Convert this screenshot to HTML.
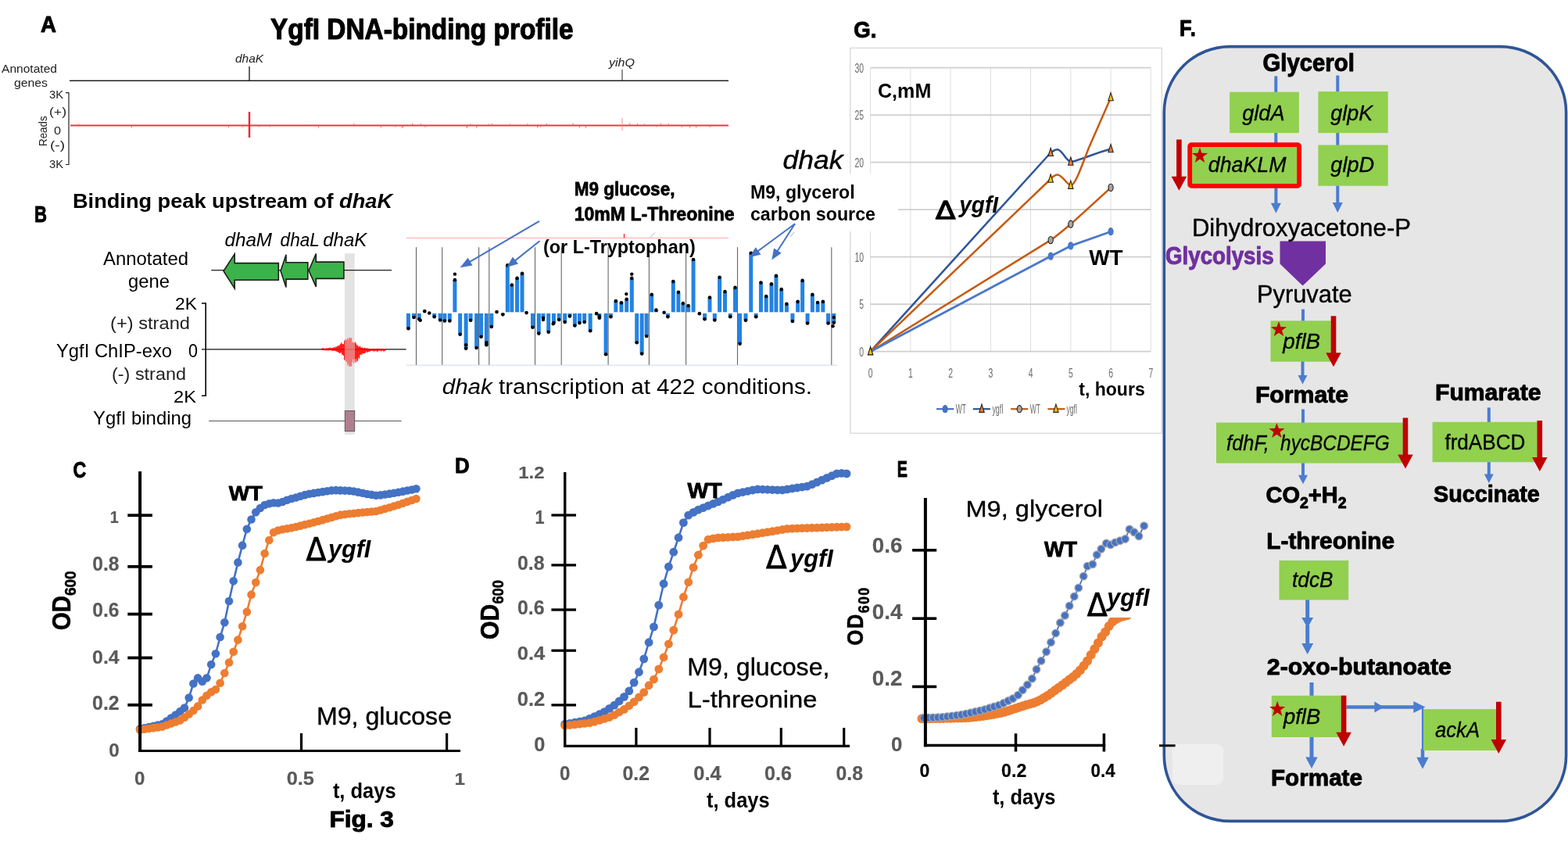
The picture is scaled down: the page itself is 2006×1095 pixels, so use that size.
<!DOCTYPE html>
<html lang="en"><head><meta charset="utf-8"><title>Fig. 3</title>
<style>
html,body{margin:0;padding:0;background:#fff}
body{width:2006px;height:1095px;overflow:hidden}
svg{display:block;font-family:"Liberation Sans",sans-serif}
</style></head><body>
<svg width="2006" height="1095" viewBox="0 0 2006 1095">
<rect width="2006" height="1095" fill="#fff"/>
<rect x="1087.8" y="61.4" width="398.5" height="492.9" fill="#fff" stroke="#dcdcdc" stroke-width="1.5"/>
<line x1="1113.6" y1="86.7" x2="1113.6" y2="449.7" stroke="#dedede" stroke-width="1"/>
<line x1="1164.84" y1="86.7" x2="1164.84" y2="449.7" stroke="#dedede" stroke-width="1"/>
<line x1="1216.08" y1="86.7" x2="1216.08" y2="449.7" stroke="#dedede" stroke-width="1"/>
<line x1="1267.32" y1="86.7" x2="1267.32" y2="449.7" stroke="#dedede" stroke-width="1"/>
<line x1="1318.56" y1="86.7" x2="1318.56" y2="449.7" stroke="#dedede" stroke-width="1"/>
<line x1="1369.8" y1="86.7" x2="1369.8" y2="449.7" stroke="#dedede" stroke-width="1"/>
<line x1="1421.04" y1="86.7" x2="1421.04" y2="449.7" stroke="#dedede" stroke-width="1"/>
<line x1="1472.28" y1="86.7" x2="1472.28" y2="449.7" stroke="#dedede" stroke-width="1"/>
<line x1="1113.6" y1="449.7" x2="1472.28" y2="449.7" stroke="#cfcfcf" stroke-width="1.8"/>
<line x1="1113.6" y1="389.2" x2="1472.28" y2="389.2" stroke="#cfcfcf" stroke-width="1.8"/>
<line x1="1113.6" y1="328.7" x2="1472.28" y2="328.7" stroke="#cfcfcf" stroke-width="1.8"/>
<line x1="1113.6" y1="268.2" x2="1472.28" y2="268.2" stroke="#cfcfcf" stroke-width="1.8"/>
<line x1="1113.6" y1="207.7" x2="1472.28" y2="207.7" stroke="#cfcfcf" stroke-width="1.8"/>
<line x1="1113.6" y1="147.2" x2="1472.28" y2="147.2" stroke="#cfcfcf" stroke-width="1.8"/>
<line x1="1113.6" y1="86.7" x2="1472.28" y2="86.7" stroke="#cfcfcf" stroke-width="1.8"/>
<text x="1099.2" y="455.9" font-size="17" fill="#6b6b6b" textLength="5.8" lengthAdjust="spacingAndGlyphs">0</text>
<text x="1099.2" y="395.4" font-size="17" fill="#6b6b6b" textLength="5.8" lengthAdjust="spacingAndGlyphs">5</text>
<text x="1093.4" y="334.9" font-size="17" fill="#6b6b6b" textLength="11.6" lengthAdjust="spacingAndGlyphs">10</text>
<text x="1093.4" y="274.4" font-size="17" fill="#6b6b6b" textLength="11.6" lengthAdjust="spacingAndGlyphs">15</text>
<text x="1093.4" y="213.9" font-size="17" fill="#6b6b6b" textLength="11.6" lengthAdjust="spacingAndGlyphs">20</text>
<text x="1093.4" y="153.4" font-size="17" fill="#6b6b6b" textLength="11.6" lengthAdjust="spacingAndGlyphs">25</text>
<text x="1093.4" y="92.9" font-size="17" fill="#6b6b6b" textLength="11.6" lengthAdjust="spacingAndGlyphs">30</text>
<text x="1110.7" y="482.9" font-size="17" fill="#6b6b6b" textLength="5.8" lengthAdjust="spacingAndGlyphs">0</text>
<text x="1161.94" y="482.9" font-size="17" fill="#6b6b6b" textLength="5.8" lengthAdjust="spacingAndGlyphs">1</text>
<text x="1213.18" y="482.9" font-size="17" fill="#6b6b6b" textLength="5.8" lengthAdjust="spacingAndGlyphs">2</text>
<text x="1264.42" y="482.9" font-size="17" fill="#6b6b6b" textLength="5.8" lengthAdjust="spacingAndGlyphs">3</text>
<text x="1315.66" y="482.9" font-size="17" fill="#6b6b6b" textLength="5.8" lengthAdjust="spacingAndGlyphs">4</text>
<text x="1366.9" y="482.9" font-size="17" fill="#6b6b6b" textLength="5.8" lengthAdjust="spacingAndGlyphs">5</text>
<text x="1418.14" y="482.9" font-size="17" fill="#6b6b6b" textLength="5.8" lengthAdjust="spacingAndGlyphs">6</text>
<text x="1469.38" y="482.9" font-size="17" fill="#6b6b6b" textLength="5.8" lengthAdjust="spacingAndGlyphs">7</text>
<path d="M1113.6 449.7 L1339.5 200.5 C1343.5 196 1348 190.8 1353 191.2 C1359.5 192 1363 205.5 1370 207 C1378 206.5 1400 196 1421.3 190.5" fill="none" stroke="#2f5597" stroke-width="2.5" stroke-linejoin="round" stroke-linecap="round"/>
<path d="M1113.6 449.7 L1339.5 233.5 C1343.5 229.5 1348 223 1353 223.4 C1359.5 224.2 1364 235.5 1370 237.2 C1376 236 1384 212 1393 189 L1421.3 124.6" fill="none" stroke="#c55a11" stroke-width="2.5" stroke-linejoin="round" stroke-linecap="round"/>
<path d="M1113.6 449.7 L1344.2 307.1 C1353 301 1362 293 1370 286.7 L1421.3 239.9" fill="none" stroke="#c55a11" stroke-width="2.5" stroke-linejoin="round" stroke-linecap="round"/>
<path d="M1113.6 449.7 L1344.2 327.7 L1370 314.4 L1421.3 296.2" fill="none" stroke="#4a78cc" stroke-width="2.8" stroke-linejoin="round" stroke-linecap="round"/>
<path d="M1344.18 189.3 L1347.38 199.5 L1340.98 199.5 Z" fill="#ed7d31" stroke="#222" stroke-width="1.1"/>
<path d="M1369.8 201 L1373 211.2 L1366.6 211.2 Z" fill="#ed7d31" stroke="#222" stroke-width="1.1"/>
<path d="M1421.04 184.5 L1424.24 194.7 L1417.84 194.7 Z" fill="#ed7d31" stroke="#222" stroke-width="1.1"/>
<path d="M1344.18 223 L1347.38 233.2 L1340.98 233.2 Z" fill="#ffc000" stroke="#222" stroke-width="1.1"/>
<path d="M1369.8 231.2 L1373 241.4 L1366.6 241.4 Z" fill="#ffc000" stroke="#222" stroke-width="1.1"/>
<path d="M1421.04 118.6 L1424.24 128.8 L1417.84 128.8 Z" fill="#ffc000" stroke="#222" stroke-width="1.1"/>
<ellipse cx="1344.18" cy="307.1" rx="3.1" ry="4.6" fill="#a5a5a5" stroke="#222" stroke-width="1.1"/>
<ellipse cx="1369.8" cy="286.7" rx="3.1" ry="4.6" fill="#a5a5a5" stroke="#222" stroke-width="1.1"/>
<ellipse cx="1421.04" cy="239.9" rx="3.1" ry="4.6" fill="#a5a5a5" stroke="#222" stroke-width="1.1"/>
<ellipse cx="1344.18" cy="327.7" rx="3.1" ry="4.6" fill="#4a78cc" stroke="#4a78cc" stroke-width="1.1"/>
<ellipse cx="1369.8" cy="314.4" rx="3.1" ry="4.6" fill="#4a78cc" stroke="#4a78cc" stroke-width="1.1"/>
<ellipse cx="1421.04" cy="296.2" rx="3.1" ry="4.6" fill="#4a78cc" stroke="#4a78cc" stroke-width="1.1"/>
<path d="M1113.6 443.7 L1116.8 453.9 L1110.4 453.9 Z" fill="#ffc000" stroke="#111" stroke-width="1.1"/>
<line x1="1198" y1="523.2" x2="1220.3" y2="523.2" stroke="#4472c4" stroke-width="2.2"/>
<ellipse cx="1209.1" cy="523.2" rx="3.1" ry="4.6" fill="#4472c4" stroke="#4472c4" stroke-width="1.1"/>
<text x="1222.8" y="528.7" font-size="16" fill="#6b6b6b" textLength="13" lengthAdjust="spacingAndGlyphs">WT</text>
<line x1="1244.8" y1="523.2" x2="1266.9" y2="523.2" stroke="#2f5597" stroke-width="2.2"/>
<path d="M1256 517.2 L1259.2 527.4 L1252.8 527.4 Z" fill="#ed7d31" stroke="#222" stroke-width="1.1"/>
<text x="1269.4" y="528.7" font-size="16" fill="#6b6b6b" textLength="14.3" lengthAdjust="spacingAndGlyphs">ygfI</text>
<line x1="1293.1" y1="523.2" x2="1315.2" y2="523.2" stroke="#c55a11" stroke-width="2.2"/>
<ellipse cx="1304.3" cy="523.2" rx="3.1" ry="4.6" fill="#a5a5a5" stroke="#222" stroke-width="1.1"/>
<text x="1317.7" y="528.7" font-size="16" fill="#6b6b6b" textLength="13.2" lengthAdjust="spacingAndGlyphs">WT</text>
<line x1="1340.4" y1="523.2" x2="1362.4" y2="523.2" stroke="#c55a11" stroke-width="2.2"/>
<path d="M1350.9 517.2 L1354.1 527.4 L1347.7 527.4 Z" fill="#ffc000" stroke="#222" stroke-width="1.1"/>
<text x="1364.5" y="528.7" font-size="16" fill="#6b6b6b" textLength="13.7" lengthAdjust="spacingAndGlyphs">ygfI</text>
<text x="1092.2" y="48.3" font-size="29.51" font-weight="bold" textLength="29.2" lengthAdjust="spacingAndGlyphs" stroke="#000" stroke-width="0.94" stroke-linejoin="round">G.</text>
<text x="1123" y="125" font-size="26.02" font-weight="bold" textLength="68.3" lengthAdjust="spacingAndGlyphs">C,mM</text>
<text x="1393.3" y="338.6" font-size="28.05" font-weight="bold" textLength="43.3" lengthAdjust="spacingAndGlyphs">WT</text>
<text x="1380.3" y="506.4" font-size="24.42" font-weight="bold" textLength="84.4" lengthAdjust="spacingAndGlyphs">t, hours</text>
<text x="1197.01" y="279.6" font-size="31.69" font-family="'DejaVu Sans', sans-serif" textLength="25.4" lengthAdjust="spacingAndGlyphs" stroke="#000" stroke-width="1.4" stroke-linejoin="round">Δ</text>
<text x="1227.3" y="271.8" font-size="29.8" font-weight="bold" font-style="italic" textLength="49.7" lengthAdjust="spacingAndGlyphs">ygfI</text>
<rect x="955" y="222" width="194" height="74" fill="#fff"/>
<text x="959.9" y="254" font-size="23.26" font-weight="bold" textLength="133.8" lengthAdjust="spacingAndGlyphs">M9, glycerol</text>
<text x="959.9" y="281.9" font-size="23.26" font-weight="bold" textLength="160.1" lengthAdjust="spacingAndGlyphs">carbon source</text>
<text x="52" y="41" font-size="29.8" font-weight="bold" textLength="20" lengthAdjust="spacingAndGlyphs" stroke="#000" stroke-width="0.95" stroke-linejoin="round">A</text>
<text x="346" y="50" font-size="36.34" font-weight="bold" textLength="387.5" lengthAdjust="spacingAndGlyphs" stroke="#000" stroke-width="1.16" stroke-linejoin="round">YgfI DNA-binding profile</text>
<text x="301" y="80" font-size="14.53" font-style="italic" fill="#222" textLength="36" lengthAdjust="spacingAndGlyphs">dhaK</text>
<text x="779" y="84.5" font-size="14.53" font-style="italic" fill="#222" textLength="33" lengthAdjust="spacingAndGlyphs">yihQ</text>
<text x="2" y="93" font-size="14.53" fill="#222" textLength="71" lengthAdjust="spacingAndGlyphs">Annotated</text>
<text x="18" y="111.2" font-size="14.53" fill="#222" textLength="43" lengthAdjust="spacingAndGlyphs">genes</text>
<text x="63" y="126.4" font-size="14.24" fill="#222" textLength="18" lengthAdjust="spacingAndGlyphs">3K</text>
<text x="63" y="148" font-size="14.24" fill="#222" textLength="22" lengthAdjust="spacingAndGlyphs">(+)</text>
<text x="69" y="171.8" font-size="14.24" fill="#222" textLength="9" lengthAdjust="spacingAndGlyphs">0</text>
<text x="64" y="191.2" font-size="14.24" fill="#222" textLength="19" lengthAdjust="spacingAndGlyphs">(-)</text>
<text x="63" y="214.8" font-size="14.24" fill="#222" textLength="18" lengthAdjust="spacingAndGlyphs">3K</text>
<text font-size="14.2" fill="#222" textLength="38.6" lengthAdjust="spacingAndGlyphs" transform="translate(59.7 187) rotate(-90)">Reads</text>
<line x1="89" y1="103.3" x2="932" y2="103.3" stroke="#222" stroke-width="1.4"/>
<line x1="319" y1="85" x2="319" y2="103.3" stroke="#222" stroke-width="1.4"/>
<line x1="796" y1="89" x2="796" y2="103.3" stroke="#222" stroke-width="1"/>
<path d="M84 118.6 L88 118.6 L88 210.5 L84 210.5" fill="none" stroke="#222" stroke-width="1.2"/>
<line x1="90" y1="160.5" x2="932" y2="160.5" stroke="#f5333f" stroke-width="1.8"/>
<line x1="319" y1="143" x2="319" y2="176" stroke="#f5232f" stroke-width="2.4"/>
<line x1="796" y1="151" x2="796" y2="167" stroke="#f88" stroke-width="1"/>
<line x1="292.51" y1="160.5" x2="292.51" y2="163.32" stroke="#f5555f" stroke-width="0.8"/>
<line x1="855.23" y1="160.5" x2="855.23" y2="157.79" stroke="#f5555f" stroke-width="0.8"/>
<line x1="597.65" y1="160.5" x2="597.65" y2="163.86" stroke="#f5555f" stroke-width="0.8"/>
<line x1="310.26" y1="160.5" x2="310.26" y2="162.85" stroke="#f5555f" stroke-width="0.8"/>
<line x1="544.01" y1="160.5" x2="544.01" y2="163.32" stroke="#f5555f" stroke-width="0.8"/>
<line x1="625.43" y1="160.5" x2="625.43" y2="158.27" stroke="#f5555f" stroke-width="0.8"/>
<line x1="815.48" y1="160.5" x2="815.48" y2="157.72" stroke="#f5555f" stroke-width="0.8"/>
<line x1="652.27" y1="160.5" x2="652.27" y2="158.4" stroke="#f5555f" stroke-width="0.8"/>
<line x1="345.05" y1="160.5" x2="345.05" y2="162.55" stroke="#f5555f" stroke-width="0.8"/>
<line x1="487.38" y1="160.5" x2="487.38" y2="163.58" stroke="#f5555f" stroke-width="0.8"/>
<line x1="687.73" y1="160.5" x2="687.73" y2="163.88" stroke="#f5555f" stroke-width="0.8"/>
<line x1="699.34" y1="160.5" x2="699.34" y2="157.63" stroke="#f5555f" stroke-width="0.8"/>
<line x1="824.46" y1="160.5" x2="824.46" y2="158.35" stroke="#f5555f" stroke-width="0.8"/>
<line x1="505.75" y1="160.5" x2="505.75" y2="162.89" stroke="#f5555f" stroke-width="0.8"/>
<line x1="741.55" y1="160.5" x2="741.55" y2="163.78" stroke="#f5555f" stroke-width="0.8"/>
<line x1="516.01" y1="160.5" x2="516.01" y2="163.08" stroke="#f5555f" stroke-width="0.8"/>
<line x1="538.31" y1="160.5" x2="538.31" y2="157.89" stroke="#f5555f" stroke-width="0.8"/>
<line x1="845.49" y1="160.5" x2="845.49" y2="157.48" stroke="#f5555f" stroke-width="0.8"/>
<line x1="805.81" y1="160.5" x2="805.81" y2="157.01" stroke="#f5555f" stroke-width="0.8"/>
<line x1="674.85" y1="160.5" x2="674.85" y2="158.01" stroke="#f5555f" stroke-width="0.8"/>
<line x1="687.47" y1="160.5" x2="687.47" y2="162.82" stroke="#f5555f" stroke-width="0.8"/>
<line x1="331.51" y1="160.5" x2="331.51" y2="162.6" stroke="#f5555f" stroke-width="0.8"/>
<line x1="168.47" y1="160.5" x2="168.47" y2="163.7" stroke="#f5555f" stroke-width="0.8"/>
<line x1="839.59" y1="160.5" x2="839.59" y2="162.53" stroke="#f5555f" stroke-width="0.8"/>
<line x1="733.1" y1="160.5" x2="733.1" y2="157.19" stroke="#f5555f" stroke-width="0.8"/>
<line x1="597.14" y1="160.5" x2="597.14" y2="163.64" stroke="#f5555f" stroke-width="0.8"/>
<line x1="691.31" y1="160.5" x2="691.31" y2="163" stroke="#f5555f" stroke-width="0.8"/>
<line x1="514.5" y1="160.5" x2="514.5" y2="164" stroke="#f5555f" stroke-width="0.8"/>
<line x1="101" y1="160.5" x2="101" y2="158.34" stroke="#f5555f" stroke-width="0.8"/>
<line x1="882.58" y1="160.5" x2="882.58" y2="163.96" stroke="#f5555f" stroke-width="0.8"/>
<line x1="601.69" y1="160.5" x2="601.69" y2="158.27" stroke="#f5555f" stroke-width="0.8"/>
<line x1="908.31" y1="160.5" x2="908.31" y2="163.01" stroke="#f5555f" stroke-width="0.8"/>
<line x1="890.69" y1="160.5" x2="890.69" y2="163.84" stroke="#f5555f" stroke-width="0.8"/>
<line x1="407.7" y1="160.5" x2="407.7" y2="163.8" stroke="#f5555f" stroke-width="0.8"/>
<line x1="629.43" y1="160.5" x2="629.43" y2="157.61" stroke="#f5555f" stroke-width="0.8"/>
<line x1="609.7" y1="160.5" x2="609.7" y2="163.91" stroke="#f5555f" stroke-width="0.8"/>
<line x1="452.89" y1="160.5" x2="452.89" y2="157.42" stroke="#f5555f" stroke-width="0.8"/>
<line x1="872.24" y1="160.5" x2="872.24" y2="163.16" stroke="#f5555f" stroke-width="0.8"/>
<line x1="527.54" y1="160.5" x2="527.54" y2="157.68" stroke="#f5555f" stroke-width="0.8"/>
<line x1="749.37" y1="160.5" x2="749.37" y2="163.98" stroke="#f5555f" stroke-width="0.8"/>
<text x="44" y="283.8" font-size="29.07" font-weight="bold" textLength="16" lengthAdjust="spacingAndGlyphs" stroke="#000" stroke-width="0.93" stroke-linejoin="round">B</text>
<text x="93" y="266" font-size="26.6" font-weight="bold" textLength="409" lengthAdjust="spacingAndGlyphs">Binding peak upstream of <tspan font-style="italic">dhaK</tspan></text>
<text x="287.4" y="314.7" font-size="23.26" font-style="italic" textLength="60.7" lengthAdjust="spacingAndGlyphs">dhaM</text>
<text x="358.6" y="314.7" font-size="23.26" font-style="italic" textLength="50.2" lengthAdjust="spacingAndGlyphs">dhaL</text>
<text x="413.2" y="314.7" font-size="23.26" font-style="italic" textLength="56.2" lengthAdjust="spacingAndGlyphs">dhaK</text>
<text x="132" y="339" font-size="23.69" textLength="109" lengthAdjust="spacingAndGlyphs">Annotated</text>
<text x="164" y="367.6" font-size="23.69" textLength="53" lengthAdjust="spacingAndGlyphs">gene</text>
<text x="224" y="395.5" font-size="22.53" textLength="28" lengthAdjust="spacingAndGlyphs">2K</text>
<text x="141" y="421" font-size="22.53" fill="#222" textLength="102" lengthAdjust="spacingAndGlyphs">(+) strand</text>
<text x="72" y="457.4" font-size="23.26" textLength="148" lengthAdjust="spacingAndGlyphs">YgfI ChIP-exo</text>
<text x="241" y="457.4" font-size="23.26" textLength="12" lengthAdjust="spacingAndGlyphs">0</text>
<text x="143" y="486" font-size="22.53" fill="#222" textLength="95" lengthAdjust="spacingAndGlyphs">(-) strand</text>
<text x="222" y="514.7" font-size="22.53" textLength="29" lengthAdjust="spacingAndGlyphs">2K</text>
<text x="119" y="542.6" font-size="23.26" textLength="126" lengthAdjust="spacingAndGlyphs">YgfI binding</text>
<rect x="441" y="324.2" width="12.7" height="231.6" fill="#e4e3e1"/>
<line x1="270.2" y1="345.6" x2="501" y2="345.6" stroke="#222" stroke-width="1.1"/>
<path d="M286 346.8 L300.2 324.9 L300.2 336.6 L356.3 336.6 L356.3 358.2 L300.2 358.2 L300.2 369.1 Z" fill="#3cb24a" stroke="#1d1d1b" stroke-width="1.6" stroke-linejoin="miter"/>
<path d="M359 346.5 L366 325.7 L366 335.7 L393.8 335.7 L393.8 357.1 L366 357.1 L366 367.6 Z" fill="#3cb24a" stroke="#1d1d1b" stroke-width="1.6" stroke-linejoin="miter"/>
<path d="M395 346 L404.3 324.6 L404.3 335.1 L439.9 335.1 L439.9 356.4 L404.3 356.4 L404.3 366.9 Z" fill="#3cb24a" stroke="#1d1d1b" stroke-width="1.6" stroke-linejoin="miter"/>
<path d="M258 388 L263.2 388 L263.2 506.3 L258 506.3" fill="none" stroke="#000" stroke-width="1.6"/>
<line x1="258" y1="446.9" x2="519.6" y2="446.9" stroke="#111" stroke-width="1.3"/>
<line x1="411.7" y1="445.65" x2="411.7" y2="447.81" stroke="#f00" stroke-width="1.1"/>
<line x1="412.7" y1="445.21" x2="412.7" y2="447.86" stroke="#f00" stroke-width="1.1"/>
<line x1="413.7" y1="445.31" x2="413.7" y2="448.07" stroke="#f00" stroke-width="1.1"/>
<line x1="414.7" y1="445.74" x2="414.7" y2="448.18" stroke="#f00" stroke-width="1.1"/>
<line x1="415.7" y1="445.75" x2="415.7" y2="448.13" stroke="#f00" stroke-width="1.1"/>
<line x1="416.7" y1="445.71" x2="416.7" y2="447.89" stroke="#f00" stroke-width="1.1"/>
<line x1="417.7" y1="445.37" x2="417.7" y2="448.44" stroke="#f00" stroke-width="1.1"/>
<line x1="418.7" y1="445.63" x2="418.7" y2="448.01" stroke="#f00" stroke-width="1.1"/>
<line x1="419.7" y1="445.13" x2="419.7" y2="448.58" stroke="#f00" stroke-width="1.1"/>
<line x1="420.7" y1="445.14" x2="420.7" y2="448.19" stroke="#f00" stroke-width="1.1"/>
<line x1="421.7" y1="444.68" x2="421.7" y2="447.95" stroke="#f00" stroke-width="1.1"/>
<line x1="422.7" y1="444.72" x2="422.7" y2="448.19" stroke="#f00" stroke-width="1.1"/>
<line x1="423.7" y1="445.4" x2="423.7" y2="448.1" stroke="#f00" stroke-width="1.1"/>
<line x1="424.7" y1="445.12" x2="424.7" y2="448.82" stroke="#f00" stroke-width="1.1"/>
<line x1="425.7" y1="445.15" x2="425.7" y2="448.72" stroke="#f00" stroke-width="1.1"/>
<line x1="426.7" y1="444.4" x2="426.7" y2="448.65" stroke="#f00" stroke-width="1.1"/>
<line x1="427.7" y1="444.3" x2="427.7" y2="448.44" stroke="#f00" stroke-width="1.1"/>
<line x1="428.7" y1="444.82" x2="428.7" y2="448.79" stroke="#f00" stroke-width="1.1"/>
<line x1="429.7" y1="443.48" x2="429.7" y2="449.32" stroke="#f00" stroke-width="1.1"/>
<line x1="430.7" y1="443.81" x2="430.7" y2="449.85" stroke="#f00" stroke-width="1.1"/>
<line x1="431.7" y1="443.12" x2="431.7" y2="449.7" stroke="#f00" stroke-width="1.1"/>
<line x1="432.7" y1="441.79" x2="432.7" y2="450.85" stroke="#f00" stroke-width="1.1"/>
<line x1="433.7" y1="442.73" x2="433.7" y2="451.05" stroke="#f00" stroke-width="1.1"/>
<line x1="434.7" y1="441.32" x2="434.7" y2="452.32" stroke="#f00" stroke-width="1.1"/>
<line x1="435.7" y1="439.94" x2="435.7" y2="451.29" stroke="#f00" stroke-width="1.1"/>
<line x1="436.7" y1="438.17" x2="436.7" y2="451.24" stroke="#f00" stroke-width="1.1"/>
<line x1="437.7" y1="439.71" x2="437.7" y2="453.94" stroke="#f00" stroke-width="1.1"/>
<line x1="438.7" y1="440.29" x2="438.7" y2="453.59" stroke="#f00" stroke-width="1.1"/>
<line x1="439.7" y1="440.29" x2="439.7" y2="454.94" stroke="#f00" stroke-width="1.1"/>
<line x1="440.7" y1="435.65" x2="440.7" y2="460.66" stroke="#f00" stroke-width="1.1"/>
<line x1="441.7" y1="434.19" x2="441.7" y2="459.53" stroke="#ee6b6b" stroke-width="1.1"/>
<line x1="442.7" y1="434.58" x2="442.7" y2="462.7" stroke="#ee6b6b" stroke-width="1.1"/>
<line x1="443.7" y1="434.74" x2="443.7" y2="462.25" stroke="#ee6b6b" stroke-width="1.1"/>
<line x1="444.7" y1="432.43" x2="444.7" y2="467.44" stroke="#ee6b6b" stroke-width="1.1"/>
<line x1="445.7" y1="434.65" x2="445.7" y2="465.34" stroke="#ee6b6b" stroke-width="1.1"/>
<line x1="446.7" y1="432.2" x2="446.7" y2="468.4" stroke="#ee6b6b" stroke-width="1.1"/>
<line x1="447.7" y1="432.2" x2="447.7" y2="468.4" stroke="#ee6b6b" stroke-width="1.1"/>
<line x1="448.7" y1="432.2" x2="448.7" y2="468.4" stroke="#ee6b6b" stroke-width="1.1"/>
<line x1="449.7" y1="432.2" x2="449.7" y2="468.4" stroke="#ee6b6b" stroke-width="1.1"/>
<line x1="450.7" y1="438" x2="450.7" y2="463.22" stroke="#ee6b6b" stroke-width="1.1"/>
<line x1="451.7" y1="437.28" x2="451.7" y2="459.51" stroke="#ee6b6b" stroke-width="1.1"/>
<line x1="452.7" y1="438.41" x2="452.7" y2="464.73" stroke="#ee6b6b" stroke-width="1.1"/>
<line x1="453.7" y1="438.41" x2="453.7" y2="459.45" stroke="#ee6b6b" stroke-width="1.1"/>
<line x1="454.7" y1="437.38" x2="454.7" y2="463.6" stroke="#f00" stroke-width="1.1"/>
<line x1="455.7" y1="439.74" x2="455.7" y2="459.35" stroke="#f00" stroke-width="1.1"/>
<line x1="456.7" y1="441.96" x2="456.7" y2="462.76" stroke="#f00" stroke-width="1.1"/>
<line x1="457.7" y1="441.69" x2="457.7" y2="461.28" stroke="#f00" stroke-width="1.1"/>
<line x1="458.7" y1="443.42" x2="458.7" y2="457.19" stroke="#f00" stroke-width="1.1"/>
<line x1="459.7" y1="443.59" x2="459.7" y2="458.8" stroke="#f00" stroke-width="1.1"/>
<line x1="460.7" y1="442.81" x2="460.7" y2="453.91" stroke="#f00" stroke-width="1.1"/>
<line x1="461.7" y1="444.55" x2="461.7" y2="453.53" stroke="#f00" stroke-width="1.1"/>
<line x1="462.7" y1="444.73" x2="462.7" y2="453.81" stroke="#f00" stroke-width="1.1"/>
<line x1="463.7" y1="444.49" x2="463.7" y2="452.26" stroke="#f00" stroke-width="1.1"/>
<line x1="464.7" y1="445.45" x2="464.7" y2="452.17" stroke="#f00" stroke-width="1.1"/>
<line x1="465.7" y1="445.22" x2="465.7" y2="452.02" stroke="#f00" stroke-width="1.1"/>
<line x1="466.7" y1="444.84" x2="466.7" y2="451.81" stroke="#f00" stroke-width="1.1"/>
<line x1="467.7" y1="445.41" x2="467.7" y2="451.16" stroke="#f00" stroke-width="1.1"/>
<line x1="468.7" y1="445.42" x2="468.7" y2="449.61" stroke="#f00" stroke-width="1.1"/>
<line x1="469.7" y1="445.38" x2="469.7" y2="450.78" stroke="#f00" stroke-width="1.1"/>
<line x1="470.7" y1="445.51" x2="470.7" y2="450.53" stroke="#f00" stroke-width="1.1"/>
<line x1="471.7" y1="445.89" x2="471.7" y2="449.65" stroke="#f00" stroke-width="1.1"/>
<line x1="472.7" y1="446.12" x2="472.7" y2="449.88" stroke="#f00" stroke-width="1.1"/>
<line x1="473.7" y1="446.17" x2="473.7" y2="448.89" stroke="#f00" stroke-width="1.1"/>
<line x1="474.7" y1="446.12" x2="474.7" y2="448.96" stroke="#f00" stroke-width="1.1"/>
<line x1="475.7" y1="446.07" x2="475.7" y2="448.75" stroke="#f00" stroke-width="1.1"/>
<line x1="476.7" y1="446.26" x2="476.7" y2="448.85" stroke="#f00" stroke-width="1.1"/>
<line x1="477.7" y1="446.22" x2="477.7" y2="449.11" stroke="#f00" stroke-width="1.1"/>
<line x1="478.7" y1="446.27" x2="478.7" y2="449.78" stroke="#f00" stroke-width="1.1"/>
<line x1="479.7" y1="445.97" x2="479.7" y2="448.78" stroke="#f00" stroke-width="1.1"/>
<line x1="480.7" y1="446.16" x2="480.7" y2="449.04" stroke="#f00" stroke-width="1.1"/>
<line x1="481.7" y1="446.11" x2="481.7" y2="448.73" stroke="#f00" stroke-width="1.1"/>
<line x1="482.7" y1="445.87" x2="482.7" y2="449.88" stroke="#f00" stroke-width="1.1"/>
<line x1="483.7" y1="446.06" x2="483.7" y2="449.2" stroke="#f00" stroke-width="1.1"/>
<line x1="484.7" y1="446.32" x2="484.7" y2="448.51" stroke="#f00" stroke-width="1.1"/>
<line x1="485.7" y1="446.2" x2="485.7" y2="448.7" stroke="#f00" stroke-width="1.1"/>
<line x1="486.7" y1="445.99" x2="486.7" y2="448.58" stroke="#f00" stroke-width="1.1"/>
<line x1="487.7" y1="446.35" x2="487.7" y2="449.51" stroke="#f00" stroke-width="1.1"/>
<line x1="488.7" y1="446.12" x2="488.7" y2="448.56" stroke="#f00" stroke-width="1.1"/>
<line x1="489.7" y1="446.11" x2="489.7" y2="448.42" stroke="#f00" stroke-width="1.1"/>
<line x1="490.7" y1="446.12" x2="490.7" y2="449.55" stroke="#f00" stroke-width="1.1"/>
<line x1="491.7" y1="445.97" x2="491.7" y2="449.21" stroke="#f00" stroke-width="1.1"/>
<line x1="492.7" y1="446.24" x2="492.7" y2="448.82" stroke="#f00" stroke-width="1.1"/>
<line x1="267.2" y1="538.5" x2="513.6" y2="538.5" stroke="#555" stroke-width="1.1"/>
<rect x="441.3" y="525.5" width="12.4" height="26.1" fill="#b07f8d" stroke="#5a5a5a" stroke-width="1"/>
<line x1="520" y1="304.4" x2="932" y2="304.4" stroke="#ff9c9c" stroke-width="0.9"/>
<line x1="798.5" y1="299" x2="798.5" y2="304.4" stroke="#f22" stroke-width="1.3"/>
<line x1="532.5" y1="316.2" x2="532.5" y2="467" stroke="#666" stroke-width="1.1"/>
<line x1="565.7" y1="316.2" x2="565.7" y2="467" stroke="#666" stroke-width="1.1"/>
<line x1="612.6" y1="316.2" x2="612.6" y2="467" stroke="#666" stroke-width="1.1"/>
<line x1="625.8" y1="316.2" x2="625.8" y2="467" stroke="#666" stroke-width="1.1"/>
<line x1="684.5" y1="316.2" x2="684.5" y2="467" stroke="#666" stroke-width="1.1"/>
<line x1="718.2" y1="316.2" x2="718.2" y2="467" stroke="#666" stroke-width="1.1"/>
<line x1="778.1" y1="316.2" x2="778.1" y2="467" stroke="#666" stroke-width="1.1"/>
<line x1="830.4" y1="316.2" x2="830.4" y2="467" stroke="#666" stroke-width="1.1"/>
<line x1="877.6" y1="316.2" x2="877.6" y2="467" stroke="#666" stroke-width="1.1"/>
<line x1="943.5" y1="316.2" x2="943.5" y2="467" stroke="#666" stroke-width="1.1"/>
<line x1="1063.8" y1="316.2" x2="1063.8" y2="467" stroke="#666" stroke-width="1.1"/>
<line x1="520" y1="467.2" x2="1071" y2="467.2" stroke="#d0d8e8" stroke-width="1"/>
<rect x="519.93" y="400.9" width="5" height="19.4" fill="#2383e2"/>
<rect x="526.97" y="400.9" width="5" height="5.17" fill="#2383e2"/>
<rect x="533.71" y="400.9" width="5" height="7.42" fill="#2383e2"/>
<rect x="553.18" y="400.9" width="5" height="4.42" fill="#2383e2"/>
<rect x="560.67" y="400.9" width="5" height="8.61" fill="#2383e2"/>
<rect x="566.36" y="400.9" width="5" height="9.66" fill="#2383e2"/>
<rect x="572.8" y="400.9" width="5" height="9.66" fill="#2383e2"/>
<rect x="579.39" y="358.14" width="5" height="41.16" fill="#2383e2"/>
<rect x="586.13" y="400.9" width="5" height="26.89" fill="#2383e2"/>
<rect x="593.62" y="400.9" width="5" height="44.86" fill="#2383e2"/>
<rect x="599.61" y="400.9" width="5" height="8.91" fill="#2383e2"/>
<rect x="607.1" y="400.9" width="5" height="44.11" fill="#2383e2"/>
<rect x="613.09" y="400.9" width="5" height="29.88" fill="#2383e2"/>
<rect x="619.83" y="400.9" width="5" height="40.37" fill="#2383e2"/>
<rect x="626.27" y="400.9" width="5" height="17.15" fill="#2383e2"/>
<rect x="640.79" y="400.9" width="5" height="1.43" fill="#2383e2"/>
<rect x="646.78" y="339.42" width="5" height="59.88" fill="#2383e2"/>
<rect x="652.33" y="364.43" width="5" height="34.87" fill="#2383e2"/>
<rect x="659.07" y="355.9" width="5" height="43.4" fill="#2383e2"/>
<rect x="665.51" y="349.91" width="5" height="49.39" fill="#2383e2"/>
<rect x="678.98" y="400.9" width="5" height="17.9" fill="#2383e2"/>
<rect x="686.77" y="400.9" width="5" height="25.69" fill="#2383e2"/>
<rect x="692.46" y="400.9" width="5" height="5.92" fill="#2383e2"/>
<rect x="699.2" y="400.9" width="5" height="23.89" fill="#2383e2"/>
<rect x="705.94" y="400.9" width="5" height="12.21" fill="#2383e2"/>
<rect x="712.68" y="400.9" width="5" height="8.17" fill="#2383e2"/>
<rect x="720.17" y="400.9" width="5" height="11.16" fill="#2383e2"/>
<rect x="726.46" y="400.9" width="5" height="3.67" fill="#2383e2"/>
<rect x="732.9" y="400.9" width="5" height="15.65" fill="#2383e2"/>
<rect x="738.89" y="400.9" width="5" height="12.21" fill="#2383e2"/>
<rect x="745.18" y="400.9" width="5" height="11.16" fill="#2383e2"/>
<rect x="752.67" y="400.9" width="5" height="22.39" fill="#2383e2"/>
<rect x="764.35" y="400.9" width="5" height="5.92" fill="#2383e2"/>
<rect x="772.59" y="400.9" width="5" height="52.35" fill="#2383e2"/>
<rect x="778.88" y="400.9" width="5" height="4.42" fill="#2383e2"/>
<rect x="785.32" y="385.1" width="5" height="14.2" fill="#2383e2"/>
<rect x="792.44" y="387.35" width="5" height="11.95" fill="#2383e2"/>
<rect x="799.18" y="382.86" width="5" height="16.44" fill="#2383e2"/>
<rect x="805.77" y="355.9" width="5" height="43.4" fill="#2383e2"/>
<rect x="812.21" y="400.9" width="5" height="37.37" fill="#2383e2"/>
<rect x="818.65" y="400.9" width="5" height="51.6" fill="#2383e2"/>
<rect x="824.64" y="400.9" width="5" height="29.13" fill="#2383e2"/>
<rect x="831.23" y="376.87" width="5" height="22.43" fill="#2383e2"/>
<rect x="836.92" y="396.63" width="5" height="2.67" fill="#2383e2"/>
<rect x="851.9" y="400.9" width="5" height="4.42" fill="#2383e2"/>
<rect x="858.79" y="360.09" width="5" height="39.21" fill="#2383e2"/>
<rect x="865.38" y="373.87" width="5" height="25.43" fill="#2383e2"/>
<rect x="871.37" y="388.1" width="5" height="11.2" fill="#2383e2"/>
<rect x="878.11" y="391.09" width="5" height="8.21" fill="#2383e2"/>
<rect x="884.55" y="331.94" width="5" height="67.36" fill="#2383e2"/>
<rect x="899.08" y="400.9" width="5" height="7.42" fill="#2383e2"/>
<rect x="905.52" y="380.61" width="5" height="18.69" fill="#2383e2"/>
<rect x="911.81" y="400.9" width="5" height="8.61" fill="#2383e2"/>
<rect x="918.1" y="354.7" width="5" height="44.6" fill="#2383e2"/>
<rect x="924.99" y="373.12" width="5" height="26.18" fill="#2383e2"/>
<rect x="931.73" y="400.9" width="5" height="4.42" fill="#2383e2"/>
<rect x="938.02" y="367.88" width="5" height="31.42" fill="#2383e2"/>
<rect x="944.01" y="400.9" width="5" height="38.87" fill="#2383e2"/>
<rect x="951.5" y="400.9" width="5" height="8.91" fill="#2383e2"/>
<rect x="958.24" y="323.7" width="5" height="75.6" fill="#2383e2"/>
<rect x="964.68" y="400.9" width="5" height="4.42" fill="#2383e2"/>
<rect x="970.97" y="361.59" width="5" height="37.71" fill="#2383e2"/>
<rect x="977.71" y="379.11" width="5" height="20.19" fill="#2383e2"/>
<rect x="984.44" y="363.39" width="5" height="35.91" fill="#2383e2"/>
<rect x="990.44" y="352.9" width="5" height="46.4" fill="#2383e2"/>
<rect x="997.18" y="370.13" width="5" height="29.17" fill="#2383e2"/>
<rect x="1003.91" y="388.85" width="5" height="10.45" fill="#2383e2"/>
<rect x="1011.4" y="400.9" width="5" height="10.11" fill="#2383e2"/>
<rect x="1018.14" y="385.85" width="5" height="13.45" fill="#2383e2"/>
<rect x="1024.13" y="358.89" width="5" height="40.41" fill="#2383e2"/>
<rect x="1030.57" y="400.9" width="5" height="12.66" fill="#2383e2"/>
<rect x="1036.86" y="376.87" width="5" height="22.43" fill="#2383e2"/>
<rect x="1043.6" y="387.05" width="5" height="12.25" fill="#2383e2"/>
<rect x="1050.34" y="385.85" width="5" height="13.45" fill="#2383e2"/>
<rect x="1057.08" y="400.9" width="5" height="12.66" fill="#2383e2"/>
<rect x="1064.27" y="400.9" width="5" height="11.91" fill="#2383e2"/>
<circle cx="522.43" cy="420.3" r="2.3" fill="#000"/>
<circle cx="529.47" cy="406.07" r="2.3" fill="#000"/>
<circle cx="536.21" cy="408.32" r="2.3" fill="#000"/>
<circle cx="543.25" cy="398.13" r="2.3" fill="#000"/>
<circle cx="549.24" cy="400.53" r="2.3" fill="#000"/>
<circle cx="555.68" cy="405.32" r="2.3" fill="#000"/>
<circle cx="563.17" cy="409.51" r="2.3" fill="#000"/>
<circle cx="568.86" cy="410.56" r="2.3" fill="#000"/>
<circle cx="575.3" cy="410.56" r="2.3" fill="#000"/>
<circle cx="581.89" cy="358.14" r="2.3" fill="#000"/>
<circle cx="588.63" cy="427.79" r="2.3" fill="#000"/>
<circle cx="596.12" cy="445.76" r="2.3" fill="#000"/>
<circle cx="602.11" cy="409.81" r="2.3" fill="#000"/>
<circle cx="609.6" cy="445.01" r="2.3" fill="#000"/>
<circle cx="615.59" cy="430.78" r="2.3" fill="#000"/>
<circle cx="622.33" cy="441.27" r="2.3" fill="#000"/>
<circle cx="628.77" cy="418.05" r="2.3" fill="#000"/>
<circle cx="635.51" cy="399.03" r="2.3" fill="#000"/>
<circle cx="643.29" cy="402.33" r="2.3" fill="#000"/>
<circle cx="649.28" cy="339.42" r="2.3" fill="#000"/>
<circle cx="654.83" cy="364.43" r="2.3" fill="#000"/>
<circle cx="661.57" cy="355.9" r="2.3" fill="#000"/>
<circle cx="668.01" cy="349.91" r="2.3" fill="#000"/>
<circle cx="673.55" cy="400.08" r="2.3" fill="#000"/>
<circle cx="681.48" cy="418.8" r="2.3" fill="#000"/>
<circle cx="689.27" cy="426.59" r="2.3" fill="#000"/>
<circle cx="694.96" cy="406.82" r="2.3" fill="#000"/>
<circle cx="701.7" cy="424.79" r="2.3" fill="#000"/>
<circle cx="708.44" cy="413.11" r="2.3" fill="#000"/>
<circle cx="715.18" cy="409.07" r="2.3" fill="#000"/>
<circle cx="722.67" cy="412.06" r="2.3" fill="#000"/>
<circle cx="728.96" cy="404.57" r="2.3" fill="#000"/>
<circle cx="735.4" cy="416.55" r="2.3" fill="#000"/>
<circle cx="741.39" cy="413.11" r="2.3" fill="#000"/>
<circle cx="747.68" cy="412.06" r="2.3" fill="#000"/>
<circle cx="755.17" cy="423.29" r="2.3" fill="#000"/>
<circle cx="763.11" cy="401.13" r="2.3" fill="#000"/>
<circle cx="766.85" cy="406.82" r="2.3" fill="#000"/>
<circle cx="775.09" cy="453.25" r="2.3" fill="#000"/>
<circle cx="781.38" cy="405.32" r="2.3" fill="#000"/>
<circle cx="787.82" cy="385.1" r="2.3" fill="#000"/>
<circle cx="794.94" cy="387.35" r="2.3" fill="#000"/>
<circle cx="801.68" cy="382.86" r="2.3" fill="#000"/>
<circle cx="808.27" cy="355.9" r="2.3" fill="#000"/>
<circle cx="814.71" cy="438.27" r="2.3" fill="#000"/>
<circle cx="821.15" cy="452.5" r="2.3" fill="#000"/>
<circle cx="827.14" cy="430.03" r="2.3" fill="#000"/>
<circle cx="833.73" cy="376.87" r="2.3" fill="#000"/>
<circle cx="839.42" cy="396.63" r="2.3" fill="#000"/>
<circle cx="849.61" cy="399.78" r="2.3" fill="#000"/>
<circle cx="854.4" cy="405.32" r="2.3" fill="#000"/>
<circle cx="861.29" cy="360.09" r="2.3" fill="#000"/>
<circle cx="867.88" cy="373.87" r="2.3" fill="#000"/>
<circle cx="873.87" cy="388.1" r="2.3" fill="#000"/>
<circle cx="880.61" cy="391.09" r="2.3" fill="#000"/>
<circle cx="887.05" cy="331.94" r="2.3" fill="#000"/>
<circle cx="894.84" cy="401.13" r="2.3" fill="#000"/>
<circle cx="901.58" cy="408.32" r="2.3" fill="#000"/>
<circle cx="908.02" cy="380.61" r="2.3" fill="#000"/>
<circle cx="914.31" cy="409.51" r="2.3" fill="#000"/>
<circle cx="920.6" cy="354.7" r="2.3" fill="#000"/>
<circle cx="927.49" cy="373.12" r="2.3" fill="#000"/>
<circle cx="934.23" cy="405.32" r="2.3" fill="#000"/>
<circle cx="940.52" cy="367.88" r="2.3" fill="#000"/>
<circle cx="946.51" cy="439.77" r="2.3" fill="#000"/>
<circle cx="954" cy="409.81" r="2.3" fill="#000"/>
<circle cx="960.74" cy="323.7" r="2.3" fill="#000"/>
<circle cx="967.18" cy="405.32" r="2.3" fill="#000"/>
<circle cx="973.47" cy="361.59" r="2.3" fill="#000"/>
<circle cx="980.21" cy="379.11" r="2.3" fill="#000"/>
<circle cx="986.94" cy="363.39" r="2.3" fill="#000"/>
<circle cx="992.94" cy="352.9" r="2.3" fill="#000"/>
<circle cx="999.68" cy="370.13" r="2.3" fill="#000"/>
<circle cx="1006.41" cy="388.85" r="2.3" fill="#000"/>
<circle cx="1013.9" cy="411.01" r="2.3" fill="#000"/>
<circle cx="1020.64" cy="385.85" r="2.3" fill="#000"/>
<circle cx="1026.63" cy="358.89" r="2.3" fill="#000"/>
<circle cx="1033.07" cy="413.56" r="2.3" fill="#000"/>
<circle cx="1039.36" cy="376.87" r="2.3" fill="#000"/>
<circle cx="1046.1" cy="387.05" r="2.3" fill="#000"/>
<circle cx="1052.84" cy="385.85" r="2.3" fill="#000"/>
<circle cx="1059.58" cy="413.56" r="2.3" fill="#000"/>
<circle cx="1066.77" cy="412.81" r="2.3" fill="#000"/>
<circle cx="581.89" cy="350.66" r="2.2" fill="#000"/>
<circle cx="596.12" cy="441.27" r="2.2" fill="#000"/>
<circle cx="622.33" cy="438.27" r="2.2" fill="#000"/>
<circle cx="694.96" cy="409.07" r="2.2" fill="#000"/>
<circle cx="766.85" cy="404.57" r="2.2" fill="#000"/>
<circle cx="801.3" cy="376.12" r="2.2" fill="#000"/>
<circle cx="808.27" cy="350.66" r="2.2" fill="#000"/>
<circle cx="1066.77" cy="406.07" r="2.2" fill="#000"/>
<circle cx="1065.57" cy="417.3" r="2.2" fill="#000"/>
<circle cx="537.71" cy="409.81" r="2.2" fill="#000"/>
<circle cx="707.69" cy="414.31" r="2.2" fill="#000"/>
<line x1="690" y1="282.8" x2="600.68" y2="335.12" stroke="#4472c4" stroke-width="2"/>
<path d="M588.6 342.2 L598.64 329.66 L604.45 339.58 Z" fill="#4472c4"/>
<line x1="690.5" y1="308.3" x2="658.67" y2="333.61" stroke="#4472c4" stroke-width="2"/>
<path d="M648.5 341.7 L655.88 328.49 L663.04 337.49 Z" fill="#4472c4"/>
<line x1="1017" y1="286.3" x2="969.26" y2="321.49" stroke="#4472c4" stroke-width="2"/>
<path d="M958.8 329.2 L966.66 316.26 L973.48 325.52 Z" fill="#4472c4"/>
<line x1="1017" y1="286.3" x2="994.33" y2="321.56" stroke="#4472c4" stroke-width="2"/>
<path d="M987.3 332.5 L990.03 317.61 L999.71 323.83 Z" fill="#4472c4"/>
<line x1="832" y1="303.5" x2="838" y2="297.5" stroke="#7d9bd6" stroke-width="0.8"/>
<line x1="1011" y1="303" x2="1016" y2="297" stroke="#7d9bd6" stroke-width="0.8"/>
<text x="734.7" y="250" font-size="23.84" font-weight="bold" textLength="128.7" lengthAdjust="spacingAndGlyphs" stroke="#000" stroke-width="0.76" stroke-linejoin="round">M9 glucose,</text>
<text x="734.7" y="281.9" font-size="23.84" font-weight="bold" textLength="205" lengthAdjust="spacingAndGlyphs" stroke="#000" stroke-width="0.76" stroke-linejoin="round">10mM L-Threonine</text>
<text x="695" y="324" font-size="23.69" font-weight="bold" textLength="194.7" lengthAdjust="spacingAndGlyphs">(or L-Tryptophan)</text>
<text x="1001.6" y="216" font-size="33" font-style="italic" textLength="76.8" lengthAdjust="spacingAndGlyphs" stroke="#000" stroke-width="0.4" stroke-linejoin="round">dhak</text>
<text x="565.7" y="504.4" font-size="27" textLength="473.3" lengthAdjust="spacingAndGlyphs"><tspan font-style="italic">dhak</tspan> transcription at 422 conditions.</text>
<text x="93.4" y="610.7" font-size="29.07" font-weight="bold" textLength="16.8" lengthAdjust="spacingAndGlyphs" stroke="#000" stroke-width="0.93" stroke-linejoin="round">C</text>
<path d="M179 932.4 L184.7 931.2 L190.4 930 L196.1 928.8 L201.8 927.6 L207.5 926.4 L213.2 922.47 L218.9 918.55 L224.6 914.62 L230.3 910.16 L236 905.6 L241.7 892.5 L247.4 874.43 L253.1 867.38 L258.8 871.77 L264.5 867.3 L270.2 850.1 L275.9 836.25 L281.6 815.03 L287.3 796.3 L293 769 L298.7 743.35 L304.4 719.42 L310.1 697.63 L315.8 676.73 L321.5 664.46 L327.2 655.35 L332.9 650.06 L338.6 645.97 L344.3 644.19 L350 643.32 L355.7 643.45 L361.4 642.01 L367.1 639.69 L372.8 638.06 L378.5 636.43 L384.2 634.8 L389.9 633.17 L395.6 631.75 L401.3 630.88 L407 630.01 L412.7 629.13 L418.4 628.26 L424.1 627.38 L429.8 627.14 L435.5 627.38 L441.2 627.62 L446.9 627.87 L452.6 628.52 L458.3 629.66 L464 630.8 L469.7 631.94 L475.4 632.86 L481.1 633.78 L486.8 633.36 L492.5 632.51 L498.2 631.66 L503.9 630.81 L509.6 629.79 L515.3 628.67 L521 627.55 L526.7 626.43 L532.4 625.31" fill="none" stroke="#4472c4" stroke-width="2.6" stroke-linejoin="round"/>
<g fill="#4472c4"><circle cx="179" cy="932.4" r="5.3"/><circle cx="184.7" cy="931.2" r="5.3"/><circle cx="190.4" cy="930" r="5.3"/><circle cx="196.1" cy="928.8" r="5.3"/><circle cx="201.8" cy="927.6" r="5.3"/><circle cx="207.5" cy="926.4" r="5.3"/><circle cx="213.2" cy="922.47" r="5.3"/><circle cx="218.9" cy="918.55" r="5.3"/><circle cx="224.6" cy="914.62" r="5.3"/><circle cx="230.3" cy="910.16" r="5.3"/><circle cx="236" cy="905.6" r="5.3"/><circle cx="241.7" cy="892.5" r="5.3"/><circle cx="247.4" cy="874.43" r="5.3"/><circle cx="253.1" cy="867.38" r="5.3"/><circle cx="258.8" cy="871.77" r="5.3"/><circle cx="264.5" cy="867.3" r="5.3"/><circle cx="270.2" cy="850.1" r="5.3"/><circle cx="275.9" cy="836.25" r="5.3"/><circle cx="281.6" cy="815.03" r="5.3"/><circle cx="287.3" cy="796.3" r="5.3"/><circle cx="293" cy="769" r="5.3"/><circle cx="298.7" cy="743.35" r="5.3"/><circle cx="304.4" cy="719.42" r="5.3"/><circle cx="310.1" cy="697.63" r="5.3"/><circle cx="315.8" cy="676.73" r="5.3"/><circle cx="321.5" cy="664.46" r="5.3"/><circle cx="327.2" cy="655.35" r="5.3"/><circle cx="332.9" cy="650.06" r="5.3"/><circle cx="338.6" cy="645.97" r="5.3"/><circle cx="344.3" cy="644.19" r="5.3"/><circle cx="350" cy="643.32" r="5.3"/><circle cx="355.7" cy="643.45" r="5.3"/><circle cx="361.4" cy="642.01" r="5.3"/><circle cx="367.1" cy="639.69" r="5.3"/><circle cx="372.8" cy="638.06" r="5.3"/><circle cx="378.5" cy="636.43" r="5.3"/><circle cx="384.2" cy="634.8" r="5.3"/><circle cx="389.9" cy="633.17" r="5.3"/><circle cx="395.6" cy="631.75" r="5.3"/><circle cx="401.3" cy="630.88" r="5.3"/><circle cx="407" cy="630.01" r="5.3"/><circle cx="412.7" cy="629.13" r="5.3"/><circle cx="418.4" cy="628.26" r="5.3"/><circle cx="424.1" cy="627.38" r="5.3"/><circle cx="429.8" cy="627.14" r="5.3"/><circle cx="435.5" cy="627.38" r="5.3"/><circle cx="441.2" cy="627.62" r="5.3"/><circle cx="446.9" cy="627.87" r="5.3"/><circle cx="452.6" cy="628.52" r="5.3"/><circle cx="458.3" cy="629.66" r="5.3"/><circle cx="464" cy="630.8" r="5.3"/><circle cx="469.7" cy="631.94" r="5.3"/><circle cx="475.4" cy="632.86" r="5.3"/><circle cx="481.1" cy="633.78" r="5.3"/><circle cx="486.8" cy="633.36" r="5.3"/><circle cx="492.5" cy="632.51" r="5.3"/><circle cx="498.2" cy="631.66" r="5.3"/><circle cx="503.9" cy="630.81" r="5.3"/><circle cx="509.6" cy="629.79" r="5.3"/><circle cx="515.3" cy="628.67" r="5.3"/><circle cx="521" cy="627.55" r="5.3"/><circle cx="526.7" cy="626.43" r="5.3"/><circle cx="532.4" cy="625.31" r="5.3"/></g>
<path d="M179 933.5 L184.7 932.72 L190.4 931.94 L196.1 931.16 L201.8 930.38 L207.5 929.6 L213.2 927.55 L218.9 925.5 L224.6 923.45 L230.3 921.4 L236 917.63 L241.7 913.45 L247.4 909.01 L253.1 903.39 L258.8 895.45 L264.5 889.76 L270.2 885.2 L275.9 881.93 L281.6 873.75 L287.3 860.94 L293 847.52 L298.7 833.8 L304.4 818.6 L310.1 801.24 L315.8 782.65 L321.5 760.64 L327.2 745.1 L332.9 729.17 L338.6 708.03 L344.3 690.93 L350 681.09 L355.7 678.46 L361.4 677.2 L367.1 676.22 L372.8 675.24 L378.5 674.02 L384.2 672.59 L389.9 671.16 L395.6 669.73 L401.3 668.3 L407 666.75 L412.7 665.13 L418.4 663.51 L424.1 661.88 L429.8 660.26 L435.5 658.64 L441.2 657.93 L446.9 657.32 L452.6 656.7 L458.3 656.08 L464 655.53 L469.7 655 L475.4 654.46 L481.1 653.93 L486.8 652.54 L492.5 650.86 L498.2 649.19 L503.9 647.52 L509.6 645.69 L515.3 643.78 L521 641.86 L526.7 639.95 L532.4 638.04" fill="none" stroke="#ed7d31" stroke-width="2.6" stroke-linejoin="round"/>
<g fill="#ed7d31"><circle cx="179" cy="933.5" r="5.3"/><circle cx="184.7" cy="932.72" r="5.3"/><circle cx="190.4" cy="931.94" r="5.3"/><circle cx="196.1" cy="931.16" r="5.3"/><circle cx="201.8" cy="930.38" r="5.3"/><circle cx="207.5" cy="929.6" r="5.3"/><circle cx="213.2" cy="927.55" r="5.3"/><circle cx="218.9" cy="925.5" r="5.3"/><circle cx="224.6" cy="923.45" r="5.3"/><circle cx="230.3" cy="921.4" r="5.3"/><circle cx="236" cy="917.63" r="5.3"/><circle cx="241.7" cy="913.45" r="5.3"/><circle cx="247.4" cy="909.01" r="5.3"/><circle cx="253.1" cy="903.39" r="5.3"/><circle cx="258.8" cy="895.45" r="5.3"/><circle cx="264.5" cy="889.76" r="5.3"/><circle cx="270.2" cy="885.2" r="5.3"/><circle cx="275.9" cy="881.93" r="5.3"/><circle cx="281.6" cy="873.75" r="5.3"/><circle cx="287.3" cy="860.94" r="5.3"/><circle cx="293" cy="847.52" r="5.3"/><circle cx="298.7" cy="833.8" r="5.3"/><circle cx="304.4" cy="818.6" r="5.3"/><circle cx="310.1" cy="801.24" r="5.3"/><circle cx="315.8" cy="782.65" r="5.3"/><circle cx="321.5" cy="760.64" r="5.3"/><circle cx="327.2" cy="745.1" r="5.3"/><circle cx="332.9" cy="729.17" r="5.3"/><circle cx="338.6" cy="708.03" r="5.3"/><circle cx="344.3" cy="690.93" r="5.3"/><circle cx="350" cy="681.09" r="5.3"/><circle cx="355.7" cy="678.46" r="5.3"/><circle cx="361.4" cy="677.2" r="5.3"/><circle cx="367.1" cy="676.22" r="5.3"/><circle cx="372.8" cy="675.24" r="5.3"/><circle cx="378.5" cy="674.02" r="5.3"/><circle cx="384.2" cy="672.59" r="5.3"/><circle cx="389.9" cy="671.16" r="5.3"/><circle cx="395.6" cy="669.73" r="5.3"/><circle cx="401.3" cy="668.3" r="5.3"/><circle cx="407" cy="666.75" r="5.3"/><circle cx="412.7" cy="665.13" r="5.3"/><circle cx="418.4" cy="663.51" r="5.3"/><circle cx="424.1" cy="661.88" r="5.3"/><circle cx="429.8" cy="660.26" r="5.3"/><circle cx="435.5" cy="658.64" r="5.3"/><circle cx="441.2" cy="657.93" r="5.3"/><circle cx="446.9" cy="657.32" r="5.3"/><circle cx="452.6" cy="656.7" r="5.3"/><circle cx="458.3" cy="656.08" r="5.3"/><circle cx="464" cy="655.53" r="5.3"/><circle cx="469.7" cy="655" r="5.3"/><circle cx="475.4" cy="654.46" r="5.3"/><circle cx="481.1" cy="653.93" r="5.3"/><circle cx="486.8" cy="652.54" r="5.3"/><circle cx="492.5" cy="650.86" r="5.3"/><circle cx="498.2" cy="649.19" r="5.3"/><circle cx="503.9" cy="647.52" r="5.3"/><circle cx="509.6" cy="645.69" r="5.3"/><circle cx="515.3" cy="643.78" r="5.3"/><circle cx="521" cy="641.86" r="5.3"/><circle cx="526.7" cy="639.95" r="5.3"/><circle cx="532.4" cy="638.04" r="5.3"/></g>
<line x1="179.1" y1="603" x2="179.1" y2="962" stroke="#000" stroke-width="4"/>
<line x1="177.1" y1="960.5" x2="589" y2="960.5" stroke="#000" stroke-width="2.9"/>
<line x1="163.3" y1="659.2" x2="194.9" y2="659.2" stroke="#000" stroke-width="3.8"/>
<line x1="163.3" y1="724.8" x2="194.9" y2="724.8" stroke="#000" stroke-width="3.8"/>
<line x1="163.3" y1="785.6" x2="194.9" y2="785.6" stroke="#000" stroke-width="3.8"/>
<line x1="163.3" y1="841.5" x2="194.9" y2="841.5" stroke="#000" stroke-width="3.8"/>
<line x1="163.3" y1="901.8" x2="194.9" y2="901.8" stroke="#000" stroke-width="3.8"/>
<line x1="385.5" y1="938" x2="385.5" y2="961" stroke="#000" stroke-width="3.2"/>
<line x1="571.6" y1="938" x2="571.6" y2="961" stroke="#000" stroke-width="3.2"/>
<text x="140.7" y="669.3" font-size="21.95" font-weight="bold" fill="#595959" textLength="11" lengthAdjust="spacingAndGlyphs" stroke="#595959" stroke-width="0.2" stroke-linejoin="round">1</text>
<text x="118.3" y="729.65" font-size="25.14" font-weight="bold" fill="#595959" textLength="34.2" lengthAdjust="spacingAndGlyphs" stroke="#595959" stroke-width="0.2" stroke-linejoin="round">0.8</text>
<text x="118.3" y="788.94" font-size="25.56" font-weight="bold" fill="#595959" textLength="34.2" lengthAdjust="spacingAndGlyphs" stroke="#595959" stroke-width="0.2" stroke-linejoin="round">0.6</text>
<text x="118.1" y="849.25" font-size="24.58" font-weight="bold" fill="#595959" textLength="34.6" lengthAdjust="spacingAndGlyphs" stroke="#595959" stroke-width="0.2" stroke-linejoin="round">0.4</text>
<text x="118.1" y="907.75" font-size="24.86" font-weight="bold" fill="#595959" textLength="34.6" lengthAdjust="spacingAndGlyphs" stroke="#595959" stroke-width="0.2" stroke-linejoin="round">0.2</text>
<text x="139.2" y="968.07" font-size="23.45" font-weight="bold" fill="#595959" textLength="13.5" lengthAdjust="spacingAndGlyphs" stroke="#595959" stroke-width="0.2" stroke-linejoin="round">0</text>
<text x="172" y="1003.66" font-size="23.59" font-weight="bold" fill="#595959" textLength="13.4" lengthAdjust="spacingAndGlyphs" stroke="#595959" stroke-width="0.2" stroke-linejoin="round">0</text>
<text x="366.7" y="1003.66" font-size="23.59" font-weight="bold" fill="#595959" textLength="35.3" lengthAdjust="spacingAndGlyphs" stroke="#595959" stroke-width="0.2" stroke-linejoin="round">0.5</text>
<text x="581.4" y="1003.8" font-size="22.97" font-weight="bold" fill="#595959" textLength="13.5" lengthAdjust="spacingAndGlyphs" stroke="#595959" stroke-width="0.2" stroke-linejoin="round">1</text>
<text x="425.9" y="1020.8" font-size="27" font-weight="bold" textLength="80.7" lengthAdjust="spacingAndGlyphs">t, days</text>
<text x="421.4" y="1057.6" font-size="29.51" font-weight="bold" textLength="82.3" lengthAdjust="spacingAndGlyphs" stroke="#000" stroke-width="0.94" stroke-linejoin="round">Fig. 3</text>
<text x="405" y="926.6" font-size="30.52" textLength="173" lengthAdjust="spacingAndGlyphs" stroke="#000" stroke-width="0.37" stroke-linejoin="round">M9, glucose</text>
<text x="292.8" y="639.8" font-size="26.6" font-weight="bold" textLength="43.3" lengthAdjust="spacingAndGlyphs" stroke="#000" stroke-width="0.85" stroke-linejoin="round">WT</text>
<text x="391.5" y="717" font-size="41.29" font-family="'DejaVu Sans', sans-serif" textLength="25.91" lengthAdjust="spacingAndGlyphs" stroke="#000" stroke-width="0.75" stroke-linejoin="round">Δ</text>
<text x="420.1" y="713.1" font-size="32" font-weight="bold" font-style="italic" textLength="54.2" lengthAdjust="spacingAndGlyphs">ygfI</text>
<text font-size="32.5" font-weight="bold" stroke="#000" stroke-width="0.5" textLength="76" lengthAdjust="spacingAndGlyphs" transform="translate(90.2 806.3) rotate(-90)">OD<tspan font-size="21" dy="7">600</tspan></text>
<text x="582" y="605" font-size="28.34" font-weight="bold" textLength="18.7" lengthAdjust="spacingAndGlyphs" stroke="#000" stroke-width="0.91" stroke-linejoin="round">D</text>
<path d="M722.6 926.38 L728.92 925.29 L735.25 924.2 L741.57 923.11 L747.9 922.02 L754.22 919.39 L760.54 916.57 L766.87 913.75 L773.19 910.64 L779.52 906.42 L785.84 902.21 L792.16 896.96 L798.49 891.34 L804.81 883.95 L811.14 873.19 L817.46 859.77 L823.78 842.84 L830.11 821.72 L836.43 801.84 L842.76 774.16 L849.08 746.73 L855.4 724.99 L861.73 706.21 L868.05 687.72 L874.38 668.57 L880.7 659.18 L887.02 655.39 L893.35 652.06 L899.67 649.53 L906 647 L912.32 644.47 L918.64 641.87 L924.97 639.05 L931.29 636.22 L937.62 633.4 L943.94 630.81 L950.26 629.55 L956.59 628.28 L962.91 627.02 L969.24 625.81 L975.56 626.05 L981.88 626.3 L988.21 626.54 L994.53 626.79 L1000.86 626.87 L1007.18 625.92 L1013.5 624.96 L1019.83 624.01 L1026.15 623.05 L1032.48 622.1 L1038.8 619.71 L1045.12 616.95 L1051.45 614.18 L1057.77 611.43 L1064.1 608.71 L1070.42 605.98 L1076.74 605.37 L1083.07 605.94" fill="none" stroke="#4472c4" stroke-width="2.6" stroke-linejoin="round"/>
<g fill="#4472c4"><circle cx="722.6" cy="926.38" r="5.4"/><circle cx="728.92" cy="925.29" r="5.4"/><circle cx="735.25" cy="924.2" r="5.4"/><circle cx="741.57" cy="923.11" r="5.4"/><circle cx="747.9" cy="922.02" r="5.4"/><circle cx="754.22" cy="919.39" r="5.4"/><circle cx="760.54" cy="916.57" r="5.4"/><circle cx="766.87" cy="913.75" r="5.4"/><circle cx="773.19" cy="910.64" r="5.4"/><circle cx="779.52" cy="906.42" r="5.4"/><circle cx="785.84" cy="902.21" r="5.4"/><circle cx="792.16" cy="896.96" r="5.4"/><circle cx="798.49" cy="891.34" r="5.4"/><circle cx="804.81" cy="883.95" r="5.4"/><circle cx="811.14" cy="873.19" r="5.4"/><circle cx="817.46" cy="859.77" r="5.4"/><circle cx="823.78" cy="842.84" r="5.4"/><circle cx="830.11" cy="821.72" r="5.4"/><circle cx="836.43" cy="801.84" r="5.4"/><circle cx="842.76" cy="774.16" r="5.4"/><circle cx="849.08" cy="746.73" r="5.4"/><circle cx="855.4" cy="724.99" r="5.4"/><circle cx="861.73" cy="706.21" r="5.4"/><circle cx="868.05" cy="687.72" r="5.4"/><circle cx="874.38" cy="668.57" r="5.4"/><circle cx="880.7" cy="659.18" r="5.4"/><circle cx="887.02" cy="655.39" r="5.4"/><circle cx="893.35" cy="652.06" r="5.4"/><circle cx="899.67" cy="649.53" r="5.4"/><circle cx="906" cy="647" r="5.4"/><circle cx="912.32" cy="644.47" r="5.4"/><circle cx="918.64" cy="641.87" r="5.4"/><circle cx="924.97" cy="639.05" r="5.4"/><circle cx="931.29" cy="636.22" r="5.4"/><circle cx="937.62" cy="633.4" r="5.4"/><circle cx="943.94" cy="630.81" r="5.4"/><circle cx="950.26" cy="629.55" r="5.4"/><circle cx="956.59" cy="628.28" r="5.4"/><circle cx="962.91" cy="627.02" r="5.4"/><circle cx="969.24" cy="625.81" r="5.4"/><circle cx="975.56" cy="626.05" r="5.4"/><circle cx="981.88" cy="626.3" r="5.4"/><circle cx="988.21" cy="626.54" r="5.4"/><circle cx="994.53" cy="626.79" r="5.4"/><circle cx="1000.86" cy="626.87" r="5.4"/><circle cx="1007.18" cy="625.92" r="5.4"/><circle cx="1013.5" cy="624.96" r="5.4"/><circle cx="1019.83" cy="624.01" r="5.4"/><circle cx="1026.15" cy="623.05" r="5.4"/><circle cx="1032.48" cy="622.1" r="5.4"/><circle cx="1038.8" cy="619.71" r="5.4"/><circle cx="1045.12" cy="616.95" r="5.4"/><circle cx="1051.45" cy="614.18" r="5.4"/><circle cx="1057.77" cy="611.43" r="5.4"/><circle cx="1064.1" cy="608.71" r="5.4"/><circle cx="1070.42" cy="605.98" r="5.4"/><circle cx="1076.74" cy="605.37" r="5.4"/><circle cx="1083.07" cy="605.94" r="5.4"/></g>
<path d="M722.6 928.26 L728.92 927.55 L735.25 926.85 L741.57 926.14 L747.9 925.44 L754.22 924.73 L760.54 923.23 L766.87 921.33 L773.19 919.43 L779.52 917.54 L785.84 914.67 L792.16 911.03 L798.49 907.4 L804.81 902.8 L811.14 897.79 L817.46 891.94 L823.78 885.62 L830.11 876.77 L836.43 869.03 L842.76 855.94 L849.08 840.79 L855.4 823.79 L861.73 806.16 L868.05 785.83 L874.38 763.77 L880.7 744.8 L887.02 725.83 L893.35 709.91 L899.67 698.1 L906 690.2 L912.32 688.94 L918.64 687.92 L924.97 687.6 L931.29 687.29 L937.62 686.97 L943.94 686.56 L950.26 685.61 L956.59 684.66 L962.91 683.71 L969.24 682.76 L975.56 681.71 L981.88 680.65 L988.21 679.6 L994.53 678.54 L1000.86 677.49 L1007.18 676.44 L1013.5 676.12 L1019.83 675.9 L1026.15 675.69 L1032.48 675.48 L1038.8 675.27 L1045.12 675.06 L1051.45 674.85 L1057.77 674.65 L1064.1 674.44 L1070.42 674.24 L1076.74 674.03 L1083.07 673.83" fill="none" stroke="#ed7d31" stroke-width="2.6" stroke-linejoin="round"/>
<g fill="#ed7d31"><circle cx="722.6" cy="928.26" r="5.4"/><circle cx="728.92" cy="927.55" r="5.4"/><circle cx="735.25" cy="926.85" r="5.4"/><circle cx="741.57" cy="926.14" r="5.4"/><circle cx="747.9" cy="925.44" r="5.4"/><circle cx="754.22" cy="924.73" r="5.4"/><circle cx="760.54" cy="923.23" r="5.4"/><circle cx="766.87" cy="921.33" r="5.4"/><circle cx="773.19" cy="919.43" r="5.4"/><circle cx="779.52" cy="917.54" r="5.4"/><circle cx="785.84" cy="914.67" r="5.4"/><circle cx="792.16" cy="911.03" r="5.4"/><circle cx="798.49" cy="907.4" r="5.4"/><circle cx="804.81" cy="902.8" r="5.4"/><circle cx="811.14" cy="897.79" r="5.4"/><circle cx="817.46" cy="891.94" r="5.4"/><circle cx="823.78" cy="885.62" r="5.4"/><circle cx="830.11" cy="876.77" r="5.4"/><circle cx="836.43" cy="869.03" r="5.4"/><circle cx="842.76" cy="855.94" r="5.4"/><circle cx="849.08" cy="840.79" r="5.4"/><circle cx="855.4" cy="823.79" r="5.4"/><circle cx="861.73" cy="806.16" r="5.4"/><circle cx="868.05" cy="785.83" r="5.4"/><circle cx="874.38" cy="763.77" r="5.4"/><circle cx="880.7" cy="744.8" r="5.4"/><circle cx="887.02" cy="725.83" r="5.4"/><circle cx="893.35" cy="709.91" r="5.4"/><circle cx="899.67" cy="698.1" r="5.4"/><circle cx="906" cy="690.2" r="5.4"/><circle cx="912.32" cy="688.94" r="5.4"/><circle cx="918.64" cy="687.92" r="5.4"/><circle cx="924.97" cy="687.6" r="5.4"/><circle cx="931.29" cy="687.29" r="5.4"/><circle cx="937.62" cy="686.97" r="5.4"/><circle cx="943.94" cy="686.56" r="5.4"/><circle cx="950.26" cy="685.61" r="5.4"/><circle cx="956.59" cy="684.66" r="5.4"/><circle cx="962.91" cy="683.71" r="5.4"/><circle cx="969.24" cy="682.76" r="5.4"/><circle cx="975.56" cy="681.71" r="5.4"/><circle cx="981.88" cy="680.65" r="5.4"/><circle cx="988.21" cy="679.6" r="5.4"/><circle cx="994.53" cy="678.54" r="5.4"/><circle cx="1000.86" cy="677.49" r="5.4"/><circle cx="1007.18" cy="676.44" r="5.4"/><circle cx="1013.5" cy="676.12" r="5.4"/><circle cx="1019.83" cy="675.9" r="5.4"/><circle cx="1026.15" cy="675.69" r="5.4"/><circle cx="1032.48" cy="675.48" r="5.4"/><circle cx="1038.8" cy="675.27" r="5.4"/><circle cx="1045.12" cy="675.06" r="5.4"/><circle cx="1051.45" cy="674.85" r="5.4"/><circle cx="1057.77" cy="674.65" r="5.4"/><circle cx="1064.1" cy="674.44" r="5.4"/><circle cx="1070.42" cy="674.24" r="5.4"/><circle cx="1076.74" cy="674.03" r="5.4"/><circle cx="1083.07" cy="673.83" r="5.4"/></g>
<line x1="722.7" y1="604" x2="722.7" y2="956" stroke="#000" stroke-width="3.4"/>
<line x1="721" y1="954.4" x2="1087" y2="954.4" stroke="#000" stroke-width="3.3"/>
<line x1="705.4" y1="659" x2="737" y2="659" stroke="#000" stroke-width="3.3"/>
<line x1="705.4" y1="722.9" x2="737" y2="722.9" stroke="#000" stroke-width="3.3"/>
<line x1="705.4" y1="780" x2="737" y2="780" stroke="#000" stroke-width="3.3"/>
<line x1="705.4" y1="832.2" x2="737" y2="832.2" stroke="#000" stroke-width="3.3"/>
<line x1="705.4" y1="901.9" x2="737" y2="901.9" stroke="#000" stroke-width="3.3"/>
<line x1="813.9" y1="931" x2="813.9" y2="955" stroke="#000" stroke-width="3.2"/>
<line x1="908" y1="931" x2="908" y2="955" stroke="#000" stroke-width="3.2"/>
<line x1="999.3" y1="931" x2="999.3" y2="955" stroke="#000" stroke-width="3.2"/>
<line x1="1079.7" y1="931" x2="1079.7" y2="955" stroke="#000" stroke-width="3.2"/>
<text x="663.3" y="611.87" font-size="22.74" font-weight="bold" fill="#595959" textLength="33.2" lengthAdjust="spacingAndGlyphs" stroke="#595959" stroke-width="0.2" stroke-linejoin="round">1.2</text>
<text x="684.4" y="669.8" font-size="23.98" font-weight="bold" fill="#595959" textLength="12.1" lengthAdjust="spacingAndGlyphs" stroke="#595959" stroke-width="0.2" stroke-linejoin="round">1</text>
<text x="661.9" y="729.05" font-size="25" font-weight="bold" fill="#595959" textLength="34.6" lengthAdjust="spacingAndGlyphs" stroke="#595959" stroke-width="0.2" stroke-linejoin="round">0.8</text>
<text x="661.9" y="786.35" font-size="25" font-weight="bold" fill="#595959" textLength="34.6" lengthAdjust="spacingAndGlyphs" stroke="#595959" stroke-width="0.2" stroke-linejoin="round">0.6</text>
<text x="661.7" y="844.35" font-size="24.72" font-weight="bold" fill="#595959" textLength="35.6" lengthAdjust="spacingAndGlyphs" stroke="#595959" stroke-width="0.2" stroke-linejoin="round">0.4</text>
<text x="661.7" y="903.24" font-size="25.56" font-weight="bold" fill="#595959" textLength="35.6" lengthAdjust="spacingAndGlyphs" stroke="#595959" stroke-width="0.2" stroke-linejoin="round">0.2</text>
<text x="683.2" y="961.15" font-size="25" font-weight="bold" fill="#595959" textLength="14.1" lengthAdjust="spacingAndGlyphs" stroke="#595959" stroke-width="0.2" stroke-linejoin="round">0</text>
<text x="716" y="997.75" font-size="25" font-weight="bold" fill="#595959" textLength="13.4" lengthAdjust="spacingAndGlyphs" stroke="#595959" stroke-width="0.2" stroke-linejoin="round">0</text>
<text x="796.5" y="997.75" font-size="25" font-weight="bold" fill="#595959" textLength="34.5" lengthAdjust="spacingAndGlyphs" stroke="#595959" stroke-width="0.2" stroke-linejoin="round">0.2</text>
<text x="887.3" y="997.75" font-size="25" font-weight="bold" fill="#595959" textLength="35.5" lengthAdjust="spacingAndGlyphs" stroke="#595959" stroke-width="0.2" stroke-linejoin="round">0.4</text>
<text x="978" y="997.75" font-size="25" font-weight="bold" fill="#595959" textLength="35" lengthAdjust="spacingAndGlyphs" stroke="#595959" stroke-width="0.2" stroke-linejoin="round">0.6</text>
<text x="1069.5" y="997.75" font-size="25" font-weight="bold" fill="#595959" textLength="34.5" lengthAdjust="spacingAndGlyphs" stroke="#595959" stroke-width="0.2" stroke-linejoin="round">0.8</text>
<text x="904" y="1033.4" font-size="27" font-weight="bold" textLength="80.6" lengthAdjust="spacingAndGlyphs">t, days</text>
<text x="879.3" y="864" font-size="30.96" textLength="182.2" lengthAdjust="spacingAndGlyphs" stroke="#000" stroke-width="0.37" stroke-linejoin="round">M9, glucose,</text>
<text x="879.5" y="905" font-size="30.09" textLength="166" lengthAdjust="spacingAndGlyphs" stroke="#000" stroke-width="0.36" stroke-linejoin="round">L-threonine</text>
<text x="879.5" y="636.9" font-size="27.33" font-weight="bold" textLength="44.1" lengthAdjust="spacingAndGlyphs" stroke="#000" stroke-width="0.87" stroke-linejoin="round">WT</text>
<text x="979.9" y="726.7" font-size="41.7" font-family="'DejaVu Sans', sans-serif" textLength="26.63" lengthAdjust="spacingAndGlyphs" stroke="#000" stroke-width="0.75" stroke-linejoin="round">Δ</text>
<text x="1011" y="724.9" font-size="32" font-weight="bold" font-style="italic" textLength="54.8" lengthAdjust="spacingAndGlyphs">ygfI</text>
<text font-size="33" font-weight="bold" stroke="#000" stroke-width="0.5" textLength="76" lengthAdjust="spacingAndGlyphs" transform="translate(638.2 818) rotate(-90)">OD<tspan font-size="20" dy="5.6">600</tspan></text>
<text x="1147.7" y="609.5" font-size="29.36" font-weight="bold" textLength="13.2" lengthAdjust="spacingAndGlyphs" stroke="#000" stroke-width="0.94" stroke-linejoin="round">E</text>
<path d="M1179.5 919.3 L1184.1 919.22 L1188.7 919.14 L1193.3 919.07 L1197.9 919.01 L1202.5 918.94 L1207.1 918.88 L1211.7 918.8 L1216.3 918.72 L1220.9 918.62 L1225.5 918.51 L1230.1 918.38 L1234.7 918.23 L1239.3 917.99 L1243.9 917.6 L1248.5 917.08 L1253.1 916.5 L1257.7 915.91 L1262.3 915.27 L1266.9 914.56 L1271.5 913.76 L1276.1 912.87 L1280.7 911.88 L1285.3 910.66 L1289.9 909.26 L1294.5 907.77 L1299.1 906.28 L1303.7 904.83 L1308.3 903.34 L1312.9 901.87 L1317.5 900.51 L1322.1 899.14 L1326.7 897.44 L1331.3 895.18 L1335.9 892.52 L1340.5 889.66 L1345.1 886.45 L1349.7 883.09 L1354.3 879.77 L1358.9 876.44 L1363.5 873 L1368.1 869.55 L1372.7 865.99 L1377.3 861.93 L1381.9 857.18 L1386.5 851.73 L1391.1 845.47 L1395.7 837.82 L1400.3 830.3 L1404.9 822.55 L1409.5 814.6 L1414.1 808.46 L1418.7 801.04 L1423.3 795.31 L1427.9 791.99 L1432.5 789.87 L1437.1 788.4 L1441.7 787.31" fill="none" stroke="#ed7d31" stroke-width="3" stroke-linejoin="round"/>
<g fill="#ed7d31"><circle cx="1179.5" cy="919.3" r="6"/><circle cx="1184.1" cy="919.22" r="6"/><circle cx="1188.7" cy="919.14" r="6"/><circle cx="1193.3" cy="919.07" r="6"/><circle cx="1197.9" cy="919.01" r="6"/><circle cx="1202.5" cy="918.94" r="6"/><circle cx="1207.1" cy="918.88" r="6"/><circle cx="1211.7" cy="918.8" r="6"/><circle cx="1216.3" cy="918.72" r="6"/><circle cx="1220.9" cy="918.62" r="6"/><circle cx="1225.5" cy="918.51" r="6"/><circle cx="1230.1" cy="918.38" r="6"/><circle cx="1234.7" cy="918.23" r="6"/><circle cx="1239.3" cy="917.99" r="6"/><circle cx="1243.9" cy="917.6" r="6"/><circle cx="1248.5" cy="917.08" r="6"/><circle cx="1253.1" cy="916.5" r="6"/><circle cx="1257.7" cy="915.91" r="6"/><circle cx="1262.3" cy="915.27" r="6"/><circle cx="1266.9" cy="914.56" r="6"/><circle cx="1271.5" cy="913.76" r="6"/><circle cx="1276.1" cy="912.87" r="6"/><circle cx="1280.7" cy="911.88" r="6"/><circle cx="1285.3" cy="910.66" r="6"/><circle cx="1289.9" cy="909.26" r="6"/><circle cx="1294.5" cy="907.77" r="6"/><circle cx="1299.1" cy="906.28" r="6"/><circle cx="1303.7" cy="904.83" r="6"/><circle cx="1308.3" cy="903.34" r="6"/><circle cx="1312.9" cy="901.87" r="6"/><circle cx="1317.5" cy="900.51" r="6"/><circle cx="1322.1" cy="899.14" r="6"/><circle cx="1326.7" cy="897.44" r="6"/><circle cx="1331.3" cy="895.18" r="6"/><circle cx="1335.9" cy="892.52" r="6"/><circle cx="1340.5" cy="889.66" r="6"/><circle cx="1345.1" cy="886.45" r="6"/><circle cx="1349.7" cy="883.09" r="6"/><circle cx="1354.3" cy="879.77" r="6"/><circle cx="1358.9" cy="876.44" r="6"/><circle cx="1363.5" cy="873" r="6"/><circle cx="1368.1" cy="869.55" r="6"/><circle cx="1372.7" cy="865.99" r="6"/><circle cx="1377.3" cy="861.93" r="6"/><circle cx="1381.9" cy="857.18" r="6"/><circle cx="1386.5" cy="851.73" r="6"/><circle cx="1391.1" cy="845.47" r="6"/><circle cx="1395.7" cy="837.82" r="6"/><circle cx="1400.3" cy="830.3" r="6"/><circle cx="1404.9" cy="822.55" r="6"/><circle cx="1409.5" cy="814.6" r="6"/><circle cx="1414.1" cy="808.46" r="6"/><circle cx="1418.7" cy="801.04" r="6"/><circle cx="1423.3" cy="795.31" r="6"/><circle cx="1427.9" cy="791.99" r="6"/><circle cx="1432.5" cy="789.87" r="6"/><circle cx="1437.1" cy="788.4" r="6"/><circle cx="1441.7" cy="787.31" r="6"/></g>
<rect x="1386" y="748" width="90" height="42" fill="#fff"/>
<path d="M1181.8 918.5 L1187.8 918.24 L1193.8 917.98 L1199.8 917.72 L1205.8 917.4 L1211.8 916.64 L1217.8 915.88 L1223.8 915.11 L1229.8 914.35 L1235.8 913.13 L1241.8 911.79 L1247.8 910.45 L1253.8 909.1 L1259.8 907.58 L1265.8 905.77 L1271.8 903.96 L1277.8 902.15 L1283.8 899.49 L1289.8 896.55 L1295.8 893.6 L1302.4 889.2 L1308.3 882.7 L1314.4 876 L1320.4 868.2 L1326 856.3 L1332 845.4 L1338.6 833.7 L1344.5 821.7 L1350.6 810 L1356.4 796.6 L1362.4 787.4 L1368.2 775 L1374.3 763 L1379.8 752 L1386.2 737.1 L1391.2 724.2 L1397.8 721.8 L1403.3 709.7 L1408.8 702.3 L1415.3 695 L1420.8 696.8 L1426.7 693.9 L1432.9 691.7 L1439.5 689.5 L1445 677 L1451 680.8 L1457 685.8 L1463.6 672.7" fill="none" stroke="#4472c4" stroke-width="1.8" stroke-linejoin="round"/>
<g fill="#4472c4" stroke="#a3a5aa" stroke-width="1.3"><circle cx="1181.8" cy="918.5" r="4.8"/><circle cx="1187.8" cy="918.24" r="4.8"/><circle cx="1193.8" cy="917.98" r="4.8"/><circle cx="1199.8" cy="917.72" r="4.8"/><circle cx="1205.8" cy="917.4" r="4.8"/><circle cx="1211.8" cy="916.64" r="4.8"/><circle cx="1217.8" cy="915.88" r="4.8"/><circle cx="1223.8" cy="915.11" r="4.8"/><circle cx="1229.8" cy="914.35" r="4.8"/><circle cx="1235.8" cy="913.13" r="4.8"/><circle cx="1241.8" cy="911.79" r="4.8"/><circle cx="1247.8" cy="910.45" r="4.8"/><circle cx="1253.8" cy="909.1" r="4.8"/><circle cx="1259.8" cy="907.58" r="4.8"/><circle cx="1265.8" cy="905.77" r="4.8"/><circle cx="1271.8" cy="903.96" r="4.8"/><circle cx="1277.8" cy="902.15" r="4.8"/><circle cx="1283.8" cy="899.49" r="4.8"/><circle cx="1289.8" cy="896.55" r="4.8"/><circle cx="1295.8" cy="893.6" r="4.8"/><circle cx="1302.4" cy="889.2" r="4.8"/><circle cx="1308.3" cy="882.7" r="4.8"/><circle cx="1314.4" cy="876" r="4.8"/><circle cx="1320.4" cy="868.2" r="4.8"/><circle cx="1326" cy="856.3" r="4.8"/><circle cx="1332" cy="845.4" r="4.8"/><circle cx="1338.6" cy="833.7" r="4.8"/><circle cx="1344.5" cy="821.7" r="4.8"/><circle cx="1350.6" cy="810" r="4.8"/><circle cx="1356.4" cy="796.6" r="4.8"/><circle cx="1362.4" cy="787.4" r="4.8"/><circle cx="1368.2" cy="775" r="4.8"/><circle cx="1374.3" cy="763" r="4.8"/><circle cx="1379.8" cy="752" r="4.8"/><circle cx="1386.2" cy="737.1" r="4.8"/><circle cx="1391.2" cy="724.2" r="4.8"/><circle cx="1397.8" cy="721.8" r="4.8"/><circle cx="1403.3" cy="709.7" r="4.8"/><circle cx="1408.8" cy="702.3" r="4.8"/><circle cx="1415.3" cy="695" r="4.8"/><circle cx="1420.8" cy="696.8" r="4.8"/><circle cx="1426.7" cy="693.9" r="4.8"/><circle cx="1432.9" cy="691.7" r="4.8"/><circle cx="1439.5" cy="689.5" r="4.8"/><circle cx="1445" cy="677" r="4.8"/><circle cx="1451" cy="680.8" r="4.8"/><circle cx="1457" cy="685.8" r="4.8"/><circle cx="1463.6" cy="672.7" r="4.8"/></g>
<line x1="1183.9" y1="636.9" x2="1183.9" y2="955.2" stroke="#000" stroke-width="4"/>
<line x1="1181.9" y1="953.5" x2="1414.2" y2="953.5" stroke="#000" stroke-width="3.5"/>
<line x1="1167.1" y1="703.8" x2="1198.2" y2="703.8" stroke="#000" stroke-width="3.6"/>
<line x1="1167.1" y1="791.2" x2="1198.2" y2="791.2" stroke="#000" stroke-width="3.6"/>
<line x1="1167.1" y1="878.4" x2="1198.2" y2="878.4" stroke="#000" stroke-width="3.6"/>
<line x1="1299.5" y1="938.3" x2="1299.5" y2="961.5" stroke="#000" stroke-width="3.5"/>
<line x1="1412.4" y1="938.3" x2="1412.4" y2="961.5" stroke="#000" stroke-width="3.5"/>
<text x="1115.8" y="706.92" font-size="27.54" font-weight="bold" fill="#595959" textLength="38.6" lengthAdjust="spacingAndGlyphs" stroke="#595959" stroke-width="0.2" stroke-linejoin="round">0.6</text>
<text x="1115.8" y="791.72" font-size="27.54" font-weight="bold" fill="#595959" textLength="38.6" lengthAdjust="spacingAndGlyphs" stroke="#595959" stroke-width="0.2" stroke-linejoin="round">0.4</text>
<text x="1115.8" y="876.72" font-size="27.82" font-weight="bold" fill="#595959" textLength="38.6" lengthAdjust="spacingAndGlyphs" stroke="#595959" stroke-width="0.2" stroke-linejoin="round">0.2</text>
<text x="1139.9" y="960.93" font-size="26.69" font-weight="bold" fill="#595959" textLength="14.4" lengthAdjust="spacingAndGlyphs" stroke="#595959" stroke-width="0.2" stroke-linejoin="round">0</text>
<text x="1176.6" y="994.47" font-size="23.31" font-weight="bold" textLength="12.8" lengthAdjust="spacingAndGlyphs" stroke="#000" stroke-width="0.2" stroke-linejoin="round">0</text>
<text x="1281.1" y="994.47" font-size="23.31" font-weight="bold" textLength="32.2" lengthAdjust="spacingAndGlyphs" stroke="#000" stroke-width="0.2" stroke-linejoin="round">0.2</text>
<text x="1395.6" y="994.47" font-size="23.31" font-weight="bold" textLength="31" lengthAdjust="spacingAndGlyphs" stroke="#000" stroke-width="0.2" stroke-linejoin="round">0.4</text>
<text x="1269.9" y="1029.3" font-size="27" font-weight="bold" textLength="80.6" lengthAdjust="spacingAndGlyphs">t, days</text>
<text x="1235.5" y="661" font-size="30.23" textLength="175.5" lengthAdjust="spacingAndGlyphs" stroke="#000" stroke-width="0.36" stroke-linejoin="round">M9, glycerol</text>
<text x="1336" y="711.5" font-size="27.18" font-weight="bold" textLength="42" lengthAdjust="spacingAndGlyphs" stroke="#000" stroke-width="0.87" stroke-linejoin="round">WT</text>
<text x="1390.8" y="788.2" font-size="41.29" font-family="'DejaVu Sans', sans-serif" textLength="26.01" lengthAdjust="spacingAndGlyphs" stroke="#000" stroke-width="0.75" stroke-linejoin="round">Δ</text>
<text x="1416.2" y="775" font-size="32" font-weight="bold" font-style="italic" textLength="54.2" lengthAdjust="spacingAndGlyphs">ygfI</text>
<text font-size="29" font-weight="bold" stroke="#000" stroke-width="0.5" textLength="75.4" lengthAdjust="spacingAndGlyphs" letter-spacing="1.5" transform="translate(1103.8 825.8) rotate(-90)">OD<tspan font-size="20" dy="8.4">600</tspan></text>
<rect x="1489.3" y="59.6" width="514.3" height="990.8" rx="84" ry="84" fill="#e7e6e6" stroke="#2f5597" stroke-width="3.6"/>
<text x="1508.9" y="45.9" font-size="29.07" font-weight="bold" textLength="21" lengthAdjust="spacingAndGlyphs" stroke="#000" stroke-width="0.93" stroke-linejoin="round">F<tspan dx="1.2">.</tspan></text>
<rect x="1499.7" y="951.7" width="65.5" height="52.3" fill="#efefef" rx="9"/>
<line x1="1483" y1="953.8" x2="1503.6" y2="953.8" stroke="#111" stroke-width="3"/>
<line x1="1632.3" y1="97.4" x2="1632.3" y2="118" stroke="#4a7dd0" stroke-width="4"/>
<line x1="1711.3" y1="96.5" x2="1711.3" y2="118" stroke="#4a7dd0" stroke-width="4"/>
<line x1="1632.3" y1="170" x2="1632.3" y2="183" stroke="#4a7dd0" stroke-width="4"/>
<line x1="1711.3" y1="170" x2="1711.3" y2="186" stroke="#4a7dd0" stroke-width="4"/>
<path d="M1630.4 240 L1634.4 240 L1634.4 259.7 L1638.9 259.7 L1632.4 272.7 L1625.9 259.7 L1630.4 259.7 Z" fill="#4a7dd0"/>
<path d="M1709.3 237.5 L1713.3 237.5 L1713.3 259 L1717.8 259 L1711.3 272 L1704.8 259 L1709.3 259 Z" fill="#4a7dd0"/>
<line x1="1667" y1="395.6" x2="1667" y2="411" stroke="#4a7dd0" stroke-width="4"/>
<path d="M1664.5 462 L1668.5 462 L1668.5 480 L1672.5 480 L1666.5 491.5 L1660.5 480 L1664.5 480 Z" fill="#4a7dd0"/>
<line x1="1667" y1="523.5" x2="1667" y2="541" stroke="#4a7dd0" stroke-width="4"/>
<line x1="1904.8" y1="521.4" x2="1904.8" y2="540" stroke="#4a7dd0" stroke-width="4"/>
<path d="M1665 592 L1669 592 L1669 607.8 L1673 607.8 L1667 619.3 L1661 607.8 L1665 607.8 Z" fill="#4a7dd0"/>
<path d="M1902.8 591 L1906.8 591 L1906.8 606.5 L1910.8 606.5 L1904.8 618 L1898.8 606.5 L1902.8 606.5 Z" fill="#4a7dd0"/>
<path d="M1670.2 767 L1675.2 767 L1675.2 790 L1680.2 790 L1672.7 803 L1665.2 790 L1670.2 790 Z" fill="#4a7dd0"/>
<path d="M1670.2 800 L1675.2 800 L1675.2 823 L1680.2 823 L1672.7 837 L1665.2 823 L1670.2 823 Z" fill="#4a7dd0"/>
<line x1="1678" y1="873" x2="1678" y2="890" stroke="#4a7dd0" stroke-width="5"/>
<path d="M1675.5 942 L1680.5 942 L1680.5 968.6 L1685.75 968.6 L1678 983.1 L1670.25 968.6 L1675.5 968.6 Z" fill="#4a7dd0"/>
<line x1="1722.5" y1="904.5" x2="1812" y2="904.5" stroke="#4a7dd0" stroke-width="4.5"/>
<path d="M1770.5 904.5 L1758.4 897.5 L1758.4 911.5 Z" fill="#4a7dd0"/>
<path d="M1823.5 904.5 L1808.3 897 L1808.3 912 Z" fill="#4a7dd0"/>
<line x1="1820" y1="904.5" x2="1820" y2="960" stroke="#4a7dd0" stroke-width="2.2"/>
<path d="M1817.75 958 L1822.25 958 L1822.25 968.7 L1827.75 968.7 L1820 983.7 L1812.25 968.7 L1817.75 968.7 Z" fill="#4a7dd0"/>
<rect x="1573.1" y="117.7" width="88.8" height="52.4" fill="#92d050"/>
<rect x="1686.4" y="117.1" width="89.3" height="53" fill="#92d050"/>
<rect x="1522.2" y="185.2" width="139.9" height="52.7" fill="#92d050" stroke="#ff0000" stroke-width="5.8" rx="2"/>
<rect x="1686.4" y="185.5" width="89.3" height="52.3" fill="#92d050"/>
<rect x="1625.5" y="410.3" width="77.4" height="52.4" fill="#92d050"/>
<rect x="1556" y="540.6" width="241.3" height="51.9" fill="#92d050"/>
<rect x="1832.6" y="539.8" width="135.1" height="51.4" fill="#92d050"/>
<rect x="1636.5" y="716.9" width="88.7" height="50.6" fill="#92d050"/>
<rect x="1626.8" y="889.8" width="90.5" height="53.2" fill="#92d050"/>
<rect x="1819" y="907.1" width="97.5" height="52.9" fill="#92d050"/>
<line x1="1820" y1="906" x2="1820" y2="960" stroke="#4a7dd0" stroke-width="2"/>
<path d="M1637.5 308.6 L1696 308.6 L1696 337.5 L1666.6 365.4 L1637.5 337.5 Z" fill="#7030a0"/>
<path d="M1505.1 178.5 L1511.7 178.5 L1511.7 225.7 L1518.15 225.7 L1508.4 243.7 L1498.65 225.7 L1505.1 225.7 Z" fill="#c00000"/>
<path d="M1702.7 404.2 L1709.3 404.2 L1709.3 451.3 L1715.75 451.3 L1706 469.3 L1696.25 451.3 L1702.7 451.3 Z" fill="#c00000"/>
<path d="M1794.7 534.5 L1801.3 534.5 L1801.3 581.6 L1807.75 581.6 L1798 599.6 L1788.25 581.6 L1794.7 581.6 Z" fill="#c00000"/>
<path d="M1966.5 538 L1973.1 538 L1973.1 585 L1979.55 585 L1969.8 603 L1960.05 585 L1966.5 585 Z" fill="#c00000"/>
<path d="M1715.8 889.8 L1722.4 889.8 L1722.4 936.8 L1728.85 936.8 L1719.1 954.8 L1709.35 936.8 L1715.8 936.8 Z" fill="#c00000"/>
<path d="M1914 897.7 L1920.6 897.7 L1920.6 946 L1927.05 946 L1917.3 964 L1907.55 946 L1914 946 Z" fill="#c00000"/>
<path d="M1535 188.7 L1537.49 195.87 L1545.08 196.02 L1539.03 200.61 L1541.23 207.88 L1535 203.54 L1528.77 207.88 L1530.97 200.61 L1524.92 196.02 L1532.51 195.87 Z" fill="#c00000"/>
<path d="M1636 410.9 L1638.49 418.07 L1646.08 418.22 L1640.03 422.81 L1642.23 430.08 L1636 425.74 L1629.77 430.08 L1631.97 422.81 L1625.92 418.22 L1633.51 418.07 Z" fill="#c00000"/>
<path d="M1633.4 540.9 L1635.89 548.07 L1643.48 548.22 L1637.43 552.81 L1639.63 560.08 L1633.4 555.74 L1627.17 560.08 L1629.37 552.81 L1623.32 548.22 L1630.91 548.07 Z" fill="#c00000"/>
<path d="M1634.2 896.7 L1636.69 903.87 L1644.28 904.02 L1638.23 908.61 L1640.43 915.88 L1634.2 911.54 L1627.97 915.88 L1630.17 908.61 L1624.12 904.02 L1631.71 903.87 Z" fill="#c00000"/>
<text x="1615.6" y="90.8" font-size="30.52" font-weight="bold" textLength="117.2" lengthAdjust="spacingAndGlyphs" stroke="#000" stroke-width="0.98" stroke-linejoin="round">Glycerol</text>
<text x="1589.3" y="153.6" font-size="26.89" font-style="italic" textLength="54.2" lengthAdjust="spacingAndGlyphs" stroke="#000" stroke-width="0.32" stroke-linejoin="round">gldA</text>
<text x="1702.3" y="153.6" font-size="26.89" font-style="italic" textLength="53.9" lengthAdjust="spacingAndGlyphs" stroke="#000" stroke-width="0.32" stroke-linejoin="round">glpK</text>
<text x="1545.8" y="220.4" font-size="26.89" font-style="italic" textLength="99.7" lengthAdjust="spacingAndGlyphs" stroke="#000" stroke-width="0.32" stroke-linejoin="round">dhaKLM</text>
<text x="1702.3" y="220.4" font-size="26.89" font-style="italic" textLength="55.9" lengthAdjust="spacingAndGlyphs" stroke="#000" stroke-width="0.32" stroke-linejoin="round">glpD</text>
<text x="1524.9" y="301.6" font-size="30.52" textLength="280.1" lengthAdjust="spacingAndGlyphs" stroke="#000" stroke-width="0.37" stroke-linejoin="round">Dihydroxyacetone-P</text>
<text x="1491" y="337.5" font-size="30.52" font-weight="bold" fill="#7030a0" textLength="138.6" lengthAdjust="spacingAndGlyphs" stroke="#7030a0" stroke-width="0.98" stroke-linejoin="round">Glycolysis</text>
<text x="1608" y="386.7" font-size="30.52" textLength="121.6" lengthAdjust="spacingAndGlyphs" stroke="#000" stroke-width="0.37" stroke-linejoin="round">Pyruvate</text>
<text x="1641.2" y="445.7" font-size="26.89" font-style="italic" textLength="48" lengthAdjust="spacingAndGlyphs" stroke="#000" stroke-width="0.32" stroke-linejoin="round">pflB</text>
<text x="1605.9" y="515.1" font-size="29.65" font-weight="bold" textLength="119.3" lengthAdjust="spacingAndGlyphs" stroke="#000" stroke-width="0.95" stroke-linejoin="round">Formate</text>
<text x="1836" y="511.7" font-size="29.65" font-weight="bold" textLength="135.6" lengthAdjust="spacingAndGlyphs" stroke="#000" stroke-width="0.95" stroke-linejoin="round">Fumarate</text>
<text x="1569.1" y="576" font-size="26.89" font-style="italic" textLength="54.6" lengthAdjust="spacingAndGlyphs" stroke="#000" stroke-width="0.32" stroke-linejoin="round">fdhF,</text>
<text x="1638.1" y="576" font-size="26.89" font-style="italic" textLength="139.5" lengthAdjust="spacingAndGlyphs" stroke="#000" stroke-width="0.32" stroke-linejoin="round">hycBCDEFG</text>
<text x="1848.4" y="574.7" font-size="26.89" textLength="103" lengthAdjust="spacingAndGlyphs" stroke="#000" stroke-width="0.32" stroke-linejoin="round">frdABCD</text>
<text x="1619.5" y="642.9" font-size="29.65" font-weight="bold" textLength="103" lengthAdjust="spacingAndGlyphs" stroke="#000" stroke-width="0.95" stroke-linejoin="round">CO<tspan font-size="20" dy="7">2</tspan><tspan dy="-7">+H</tspan><tspan font-size="20" dy="7">2</tspan></text>
<text x="1834" y="642.4" font-size="29.65" font-weight="bold" textLength="135.8" lengthAdjust="spacingAndGlyphs" stroke="#000" stroke-width="0.95" stroke-linejoin="round">Succinate</text>
<text x="1620.3" y="701.9" font-size="29.65" font-weight="bold" textLength="163.8" lengthAdjust="spacingAndGlyphs" stroke="#000" stroke-width="0.95" stroke-linejoin="round">L-threonine</text>
<text x="1653" y="751" font-size="26.89" font-style="italic" textLength="52.5" lengthAdjust="spacingAndGlyphs" stroke="#000" stroke-width="0.32" stroke-linejoin="round">tdcB</text>
<text x="1620.8" y="862.6" font-size="29.65" font-weight="bold" textLength="236.2" lengthAdjust="spacingAndGlyphs" stroke="#000" stroke-width="0.95" stroke-linejoin="round">2-oxo-butanoate</text>
<text x="1642" y="926" font-size="26.89" font-style="italic" textLength="47.2" lengthAdjust="spacingAndGlyphs" stroke="#000" stroke-width="0.32" stroke-linejoin="round">pflB</text>
<text x="1836" y="943" font-size="26.89" font-style="italic" textLength="57" lengthAdjust="spacingAndGlyphs" stroke="#000" stroke-width="0.32" stroke-linejoin="round">ackA</text>
<text x="1626" y="1005.2" font-size="29.65" font-weight="bold" textLength="117" lengthAdjust="spacingAndGlyphs" stroke="#000" stroke-width="0.95" stroke-linejoin="round">Formate</text>
</svg>
</body></html>
